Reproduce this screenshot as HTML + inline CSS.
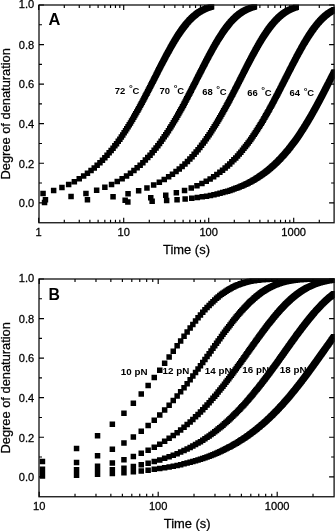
<!DOCTYPE html><html><head><meta charset="utf-8"><style>html,body{margin:0;padding:0;background:#fff;}svg{display:block;will-change:transform;}text{font-family:"Liberation Sans", sans-serif;fill:#000;}.r{stroke:#000;stroke-width:0.25px;}</style></head><body>
<svg width="335" height="531" viewBox="0 0 335 531">
<rect width="335" height="531" fill="#fff"/>
<clipPath id="c5"><rect x="38.30" y="4.30" width="296.50" height="219.15"/></clipPath><path clip-path="url(#c5)" d="M40.3 190.7h5.5v5.5h-5.5zM50.9 187.7h5.5v5.5h-5.5zM59.2 184.7h5.5v5.5h-5.5zM65.9 181.8h5.5v5.5h-5.5zM71.6 178.9h5.5v5.5h-5.5zM76.5 176.1h5.5v5.5h-5.5zM80.9 173.3h5.5v5.5h-5.5zM84.7 170.5h5.5v5.5h-5.5zM88.3 167.8h5.5v5.5h-5.5zM91.5 165.2h5.5v5.5h-5.5zM94.4 162.6h5.5v5.5h-5.5zM97.2 160.0h5.5v5.5h-5.5zM99.7 157.5h5.5v5.5h-5.5zM102.1 155.0h5.5v5.5h-5.5zM104.3 152.5h5.5v5.5h-5.5zM106.4 150.1h5.5v5.5h-5.5zM108.4 147.7h5.5v5.5h-5.5zM110.3 145.4h5.5v5.5h-5.5zM112.1 143.1h5.5v5.5h-5.5zM113.8 140.9h5.5v5.5h-5.5zM115.5 138.6h5.5v5.5h-5.5zM117.1 136.4h5.5v5.5h-5.5zM118.6 134.3h5.5v5.5h-5.5zM120.0 132.2h5.5v5.5h-5.5zM121.4 130.1h5.5v5.5h-5.5zM122.8 128.0h5.5v5.5h-5.5zM124.0 126.0h5.5v5.5h-5.5zM125.3 124.0h5.5v5.5h-5.5zM126.5 122.1h5.5v5.5h-5.5zM127.7 120.2h5.5v5.5h-5.5zM128.8 118.3h5.5v5.5h-5.5zM129.9 116.4h5.5v5.5h-5.5zM131.0 114.6h5.5v5.5h-5.5zM132.0 112.8h5.5v5.5h-5.5zM133.0 111.0h5.5v5.5h-5.5zM134.0 109.3h5.5v5.5h-5.5zM135.0 107.6h5.5v5.5h-5.5zM135.9 105.9h5.5v5.5h-5.5zM136.8 104.2h5.5v5.5h-5.5zM137.7 102.6h5.5v5.5h-5.5zM138.6 101.0h5.5v5.5h-5.5zM139.4 99.4h5.5v5.5h-5.5zM140.3 97.8h5.5v5.5h-5.5zM141.1 96.3h5.5v5.5h-5.5zM141.9 94.8h5.5v5.5h-5.5zM142.6 93.3h5.5v5.5h-5.5zM143.4 91.8h5.5v5.5h-5.5zM144.2 90.4h5.5v5.5h-5.5zM144.9 89.0h5.5v5.5h-5.5zM145.6 87.6h5.5v5.5h-5.5zM146.3 86.2h5.5v5.5h-5.5zM147.0 84.9h5.5v5.5h-5.5zM147.7 83.6h5.5v5.5h-5.5zM148.3 82.3h5.5v5.5h-5.5zM149.0 81.0h5.5v5.5h-5.5zM149.6 79.7h5.5v5.5h-5.5zM150.3 78.5h5.5v5.5h-5.5zM150.9 77.2h5.5v5.5h-5.5zM151.5 76.0h5.5v5.5h-5.5zM152.1 74.9h5.5v5.5h-5.5zM152.7 73.7h5.5v5.5h-5.5zM153.3 72.6h5.5v5.5h-5.5zM153.8 71.4h5.5v5.5h-5.5zM154.4 70.3h5.5v5.5h-5.5zM155.0 69.2h5.5v5.5h-5.5zM155.5 68.1h5.5v5.5h-5.5zM156.0 67.1h5.5v5.5h-5.5zM156.6 66.1h5.5v5.5h-5.5zM157.1 65.0h5.5v5.5h-5.5zM157.6 64.0h5.5v5.5h-5.5zM158.1 63.0h5.5v5.5h-5.5zM158.6 62.1h5.5v5.5h-5.5zM159.1 61.1h5.5v5.5h-5.5zM159.6 60.2h5.5v5.5h-5.5zM160.1 59.2h5.5v5.5h-5.5zM160.6 58.3h5.5v5.5h-5.5zM161.0 57.4h5.5v5.5h-5.5zM161.5 56.5h5.5v5.5h-5.5zM162.0 55.7h5.5v5.5h-5.5zM162.4 54.8h5.5v5.5h-5.5zM162.9 54.0h5.5v5.5h-5.5zM163.3 53.1h5.5v5.5h-5.5zM163.7 52.3h5.5v5.5h-5.5zM164.2 51.5h5.5v5.5h-5.5zM164.6 50.7h5.5v5.5h-5.5zM165.0 49.9h5.5v5.5h-5.5zM165.4 49.2h5.5v5.5h-5.5zM165.9 48.4h5.5v5.5h-5.5zM166.3 47.7h5.5v5.5h-5.5zM166.7 47.0h5.5v5.5h-5.5zM167.1 46.2h5.5v5.5h-5.5zM167.5 45.5h5.5v5.5h-5.5zM167.8 44.8h5.5v5.5h-5.5zM168.2 44.2h5.5v5.5h-5.5zM168.6 43.5h5.5v5.5h-5.5zM169.0 42.8h5.5v5.5h-5.5zM169.4 42.2h5.5v5.5h-5.5zM169.7 41.5h5.5v5.5h-5.5zM170.1 40.9h5.5v5.5h-5.5zM170.5 40.3h5.5v5.5h-5.5zM170.8 39.7h5.5v5.5h-5.5zM171.2 39.1h5.5v5.5h-5.5zM171.5 38.5h5.5v5.5h-5.5zM171.9 37.9h5.5v5.5h-5.5zM172.2 37.3h5.5v5.5h-5.5zM172.6 36.8h5.5v5.5h-5.5zM172.9 36.2h5.5v5.5h-5.5zM173.3 35.7h5.5v5.5h-5.5zM173.6 35.1h5.5v5.5h-5.5zM173.9 34.6h5.5v5.5h-5.5zM174.3 34.1h5.5v5.5h-5.5zM174.6 33.6h5.5v5.5h-5.5zM174.9 33.1h5.5v5.5h-5.5zM175.2 32.6h5.5v5.5h-5.5zM175.5 32.1h5.5v5.5h-5.5zM175.9 31.6h5.5v5.5h-5.5zM176.2 31.1h5.5v5.5h-5.5zM176.5 30.7h5.5v5.5h-5.5zM176.8 30.2h5.5v5.5h-5.5zM177.1 29.8h5.5v5.5h-5.5zM177.4 29.3h5.5v5.5h-5.5zM177.7 28.9h5.5v5.5h-5.5zM178.0 28.5h5.5v5.5h-5.5zM178.3 28.1h5.5v5.5h-5.5zM178.6 27.6h5.5v5.5h-5.5zM178.9 27.2h5.5v5.5h-5.5zM179.1 26.8h5.5v5.5h-5.5zM179.4 26.4h5.5v5.5h-5.5zM179.7 26.1h5.5v5.5h-5.5zM180.0 25.7h5.5v5.5h-5.5zM180.3 25.3h5.5v5.5h-5.5zM180.5 24.9h5.5v5.5h-5.5zM180.8 24.6h5.5v5.5h-5.5zM181.1 24.2h5.5v5.5h-5.5zM181.4 23.9h5.5v5.5h-5.5zM181.6 23.5h5.5v5.5h-5.5zM181.9 23.2h5.5v5.5h-5.5zM182.2 22.8h5.5v5.5h-5.5zM182.4 22.5h5.5v5.5h-5.5zM182.7 22.2h5.5v5.5h-5.5zM182.9 21.9h5.5v5.5h-5.5zM183.2 21.5h5.5v5.5h-5.5zM183.5 21.2h5.5v5.5h-5.5zM183.7 20.9h5.5v5.5h-5.5zM184.2 20.3h5.5v5.5h-5.5zM184.7 19.8h5.5v5.5h-5.5zM185.2 19.2h5.5v5.5h-5.5zM185.7 18.7h5.5v5.5h-5.5zM186.2 18.1h5.5v5.5h-5.5zM186.6 17.6h5.5v5.5h-5.5zM187.1 17.1h5.5v5.5h-5.5zM187.6 16.7h5.5v5.5h-5.5zM188.0 16.2h5.5v5.5h-5.5zM188.5 15.8h5.5v5.5h-5.5zM188.9 15.3h5.5v5.5h-5.5zM189.3 14.9h5.5v5.5h-5.5zM189.8 14.5h5.5v5.5h-5.5zM190.2 14.1h5.5v5.5h-5.5zM190.6 13.8h5.5v5.5h-5.5zM191.0 13.4h5.5v5.5h-5.5zM191.4 13.0h5.5v5.5h-5.5zM191.8 12.7h5.5v5.5h-5.5zM192.3 12.4h5.5v5.5h-5.5zM192.7 12.0h5.5v5.5h-5.5zM193.0 11.7h5.5v5.5h-5.5zM193.4 11.4h5.5v5.5h-5.5zM193.8 11.1h5.5v5.5h-5.5zM194.2 10.8h5.5v5.5h-5.5zM194.6 10.6h5.5v5.5h-5.5zM195.0 10.3h5.5v5.5h-5.5zM195.3 10.1h5.5v5.5h-5.5zM195.7 9.8h5.5v5.5h-5.5zM196.1 9.6h5.5v5.5h-5.5zM196.4 9.3h5.5v5.5h-5.5zM196.8 9.1h5.5v5.5h-5.5zM197.1 8.9h5.5v5.5h-5.5zM197.5 8.7h5.5v5.5h-5.5zM197.8 8.5h5.5v5.5h-5.5zM198.2 8.3h5.5v5.5h-5.5zM198.5 8.1h5.5v5.5h-5.5zM198.8 7.9h5.5v5.5h-5.5zM199.2 7.7h5.5v5.5h-5.5zM199.5 7.5h5.5v5.5h-5.5zM199.8 7.4h5.5v5.5h-5.5zM200.2 7.2h5.5v5.5h-5.5zM200.5 7.1h5.5v5.5h-5.5zM200.8 6.9h5.5v5.5h-5.5zM201.1 6.8h5.5v5.5h-5.5zM201.4 6.6h5.5v5.5h-5.5zM201.8 6.5h5.5v5.5h-5.5zM202.1 6.3h5.5v5.5h-5.5zM202.4 6.2h5.5v5.5h-5.5zM202.7 6.1h5.5v5.5h-5.5zM203.0 6.0h5.5v5.5h-5.5zM203.4 5.8h5.5v5.5h-5.5zM203.9 5.6h5.5v5.5h-5.5zM204.3 5.5h5.5v5.5h-5.5zM204.7 5.3h5.5v5.5h-5.5zM205.2 5.2h5.5v5.5h-5.5zM205.6 5.0h5.5v5.5h-5.5zM206.0 4.9h5.5v5.5h-5.5zM206.4 4.8h5.5v5.5h-5.5zM206.8 4.6h5.5v5.5h-5.5zM207.2 4.5h5.5v5.5h-5.5zM207.6 4.4h5.5v5.5h-5.5zM208.0 4.3h5.5v5.5h-5.5zM208.4 4.2h5.5v5.5h-5.5zM208.8 4.1h5.5v5.5h-5.5zM42.7 196.9h5.5v5.5h-5.5zM68.3 193.7h5.5v5.5h-5.5zM83.2 190.7h5.5v5.5h-5.5zM93.9 187.6h5.5v5.5h-5.5zM102.1 184.6h5.5v5.5h-5.5zM108.8 181.7h5.5v5.5h-5.5zM114.5 178.8h5.5v5.5h-5.5zM119.4 176.0h5.5v5.5h-5.5zM123.8 173.2h5.5v5.5h-5.5zM127.7 170.4h5.5v5.5h-5.5zM131.2 167.7h5.5v5.5h-5.5zM134.4 165.1h5.5v5.5h-5.5zM137.4 162.5h5.5v5.5h-5.5zM140.1 159.9h5.5v5.5h-5.5zM142.6 157.3h5.5v5.5h-5.5zM145.0 154.8h5.5v5.5h-5.5zM147.3 152.4h5.5v5.5h-5.5zM149.4 150.0h5.5v5.5h-5.5zM151.4 147.6h5.5v5.5h-5.5zM153.3 145.3h5.5v5.5h-5.5zM155.1 143.0h5.5v5.5h-5.5zM156.8 140.7h5.5v5.5h-5.5zM158.4 138.5h5.5v5.5h-5.5zM160.0 136.3h5.5v5.5h-5.5zM161.5 134.1h5.5v5.5h-5.5zM163.0 132.0h5.5v5.5h-5.5zM164.3 129.9h5.5v5.5h-5.5zM165.7 127.9h5.5v5.5h-5.5zM167.0 125.8h5.5v5.5h-5.5zM168.2 123.9h5.5v5.5h-5.5zM169.4 121.9h5.5v5.5h-5.5zM170.6 120.0h5.5v5.5h-5.5zM171.8 118.1h5.5v5.5h-5.5zM172.9 116.2h5.5v5.5h-5.5zM173.9 114.4h5.5v5.5h-5.5zM175.0 112.6h5.5v5.5h-5.5zM176.0 110.8h5.5v5.5h-5.5zM177.0 109.1h5.5v5.5h-5.5zM177.9 107.3h5.5v5.5h-5.5zM178.9 105.7h5.5v5.5h-5.5zM179.8 104.0h5.5v5.5h-5.5zM180.7 102.4h5.5v5.5h-5.5zM181.5 100.7h5.5v5.5h-5.5zM182.4 99.2h5.5v5.5h-5.5zM183.2 97.6h5.5v5.5h-5.5zM184.0 96.1h5.5v5.5h-5.5zM184.8 94.6h5.5v5.5h-5.5zM185.6 93.1h5.5v5.5h-5.5zM186.3 91.6h5.5v5.5h-5.5zM187.1 90.2h5.5v5.5h-5.5zM187.8 88.8h5.5v5.5h-5.5zM188.5 87.4h5.5v5.5h-5.5zM189.2 86.0h5.5v5.5h-5.5zM189.9 84.6h5.5v5.5h-5.5zM190.6 83.3h5.5v5.5h-5.5zM191.3 82.0h5.5v5.5h-5.5zM191.9 80.7h5.5v5.5h-5.5zM192.6 79.5h5.5v5.5h-5.5zM193.2 78.2h5.5v5.5h-5.5zM193.8 77.0h5.5v5.5h-5.5zM194.4 75.8h5.5v5.5h-5.5zM195.0 74.6h5.5v5.5h-5.5zM195.6 73.5h5.5v5.5h-5.5zM196.2 72.3h5.5v5.5h-5.5zM196.8 71.2h5.5v5.5h-5.5zM197.3 70.1h5.5v5.5h-5.5zM197.9 69.0h5.5v5.5h-5.5zM198.4 67.9h5.5v5.5h-5.5zM199.0 66.9h5.5v5.5h-5.5zM199.5 65.8h5.5v5.5h-5.5zM200.0 64.8h5.5v5.5h-5.5zM200.6 63.8h5.5v5.5h-5.5zM201.1 62.8h5.5v5.5h-5.5zM201.6 61.8h5.5v5.5h-5.5zM202.1 60.9h5.5v5.5h-5.5zM202.5 59.9h5.5v5.5h-5.5zM203.0 59.0h5.5v5.5h-5.5zM203.5 58.1h5.5v5.5h-5.5zM204.0 57.2h5.5v5.5h-5.5zM204.4 56.3h5.5v5.5h-5.5zM204.9 55.4h5.5v5.5h-5.5zM205.4 54.6h5.5v5.5h-5.5zM205.8 53.7h5.5v5.5h-5.5zM206.2 52.9h5.5v5.5h-5.5zM206.7 52.1h5.5v5.5h-5.5zM207.1 51.3h5.5v5.5h-5.5zM207.5 50.5h5.5v5.5h-5.5zM208.0 49.7h5.5v5.5h-5.5zM208.4 49.0h5.5v5.5h-5.5zM208.8 48.2h5.5v5.5h-5.5zM209.2 47.5h5.5v5.5h-5.5zM209.6 46.7h5.5v5.5h-5.5zM210.0 46.0h5.5v5.5h-5.5zM210.4 45.3h5.5v5.5h-5.5zM210.8 44.6h5.5v5.5h-5.5zM211.2 43.9h5.5v5.5h-5.5zM211.6 43.3h5.5v5.5h-5.5zM211.9 42.6h5.5v5.5h-5.5zM212.3 42.0h5.5v5.5h-5.5zM212.7 41.3h5.5v5.5h-5.5zM213.0 40.7h5.5v5.5h-5.5zM213.4 40.1h5.5v5.5h-5.5zM213.8 39.5h5.5v5.5h-5.5zM214.1 38.9h5.5v5.5h-5.5zM214.5 38.3h5.5v5.5h-5.5zM214.8 37.7h5.5v5.5h-5.5zM215.2 37.1h5.5v5.5h-5.5zM215.5 36.6h5.5v5.5h-5.5zM215.9 36.0h5.5v5.5h-5.5zM216.2 35.5h5.5v5.5h-5.5zM216.5 34.9h5.5v5.5h-5.5zM216.9 34.4h5.5v5.5h-5.5zM217.2 33.9h5.5v5.5h-5.5zM217.5 33.4h5.5v5.5h-5.5zM217.8 32.9h5.5v5.5h-5.5zM218.2 32.4h5.5v5.5h-5.5zM218.5 31.9h5.5v5.5h-5.5zM218.8 31.4h5.5v5.5h-5.5zM219.1 31.0h5.5v5.5h-5.5zM219.4 30.5h5.5v5.5h-5.5zM219.7 30.1h5.5v5.5h-5.5zM220.0 29.6h5.5v5.5h-5.5zM220.3 29.2h5.5v5.5h-5.5zM220.6 28.7h5.5v5.5h-5.5zM220.9 28.3h5.5v5.5h-5.5zM221.2 27.9h5.5v5.5h-5.5zM221.5 27.5h5.5v5.5h-5.5zM221.8 27.1h5.5v5.5h-5.5zM222.1 26.7h5.5v5.5h-5.5zM222.4 26.3h5.5v5.5h-5.5zM222.6 25.9h5.5v5.5h-5.5zM222.9 25.5h5.5v5.5h-5.5zM223.2 25.1h5.5v5.5h-5.5zM223.5 24.8h5.5v5.5h-5.5zM223.8 24.4h5.5v5.5h-5.5zM224.0 24.0h5.5v5.5h-5.5zM224.3 23.7h5.5v5.5h-5.5zM224.6 23.4h5.5v5.5h-5.5zM224.8 23.0h5.5v5.5h-5.5zM225.1 22.7h5.5v5.5h-5.5zM225.4 22.4h5.5v5.5h-5.5zM225.6 22.0h5.5v5.5h-5.5zM225.9 21.7h5.5v5.5h-5.5zM226.1 21.4h5.5v5.5h-5.5zM226.4 21.1h5.5v5.5h-5.5zM226.7 20.8h5.5v5.5h-5.5zM227.2 20.2h5.5v5.5h-5.5zM227.6 19.6h5.5v5.5h-5.5zM228.1 19.1h5.5v5.5h-5.5zM228.6 18.5h5.5v5.5h-5.5zM229.1 18.0h5.5v5.5h-5.5zM229.6 17.5h5.5v5.5h-5.5zM230.0 17.0h5.5v5.5h-5.5zM230.5 16.5h5.5v5.5h-5.5zM230.9 16.1h5.5v5.5h-5.5zM231.4 15.7h5.5v5.5h-5.5zM231.8 15.2h5.5v5.5h-5.5zM232.3 14.8h5.5v5.5h-5.5zM232.7 14.4h5.5v5.5h-5.5zM233.1 14.0h5.5v5.5h-5.5zM233.5 13.6h5.5v5.5h-5.5zM234.0 13.3h5.5v5.5h-5.5zM234.4 12.9h5.5v5.5h-5.5zM234.8 12.6h5.5v5.5h-5.5zM235.2 12.3h5.5v5.5h-5.5zM235.6 11.9h5.5v5.5h-5.5zM236.0 11.6h5.5v5.5h-5.5zM236.4 11.3h5.5v5.5h-5.5zM236.8 11.0h5.5v5.5h-5.5zM237.1 10.8h5.5v5.5h-5.5zM237.5 10.5h5.5v5.5h-5.5zM237.9 10.2h5.5v5.5h-5.5zM238.3 10.0h5.5v5.5h-5.5zM238.6 9.7h5.5v5.5h-5.5zM239.0 9.5h5.5v5.5h-5.5zM239.4 9.3h5.5v5.5h-5.5zM239.7 9.0h5.5v5.5h-5.5zM240.1 8.8h5.5v5.5h-5.5zM240.4 8.6h5.5v5.5h-5.5zM240.8 8.4h5.5v5.5h-5.5zM241.1 8.2h5.5v5.5h-5.5zM241.4 8.0h5.5v5.5h-5.5zM241.8 7.8h5.5v5.5h-5.5zM242.1 7.7h5.5v5.5h-5.5zM242.5 7.5h5.5v5.5h-5.5zM242.8 7.3h5.5v5.5h-5.5zM243.1 7.2h5.5v5.5h-5.5zM243.4 7.0h5.5v5.5h-5.5zM243.7 6.8h5.5v5.5h-5.5zM244.1 6.7h5.5v5.5h-5.5zM244.4 6.6h5.5v5.5h-5.5zM244.7 6.4h5.5v5.5h-5.5zM245.0 6.3h5.5v5.5h-5.5zM245.3 6.2h5.5v5.5h-5.5zM245.6 6.0h5.5v5.5h-5.5zM245.9 5.9h5.5v5.5h-5.5zM246.4 5.7h5.5v5.5h-5.5zM246.8 5.6h5.5v5.5h-5.5zM247.2 5.4h5.5v5.5h-5.5zM247.7 5.3h5.5v5.5h-5.5zM248.1 5.1h5.5v5.5h-5.5zM248.5 5.0h5.5v5.5h-5.5zM248.9 4.9h5.5v5.5h-5.5zM249.3 4.7h5.5v5.5h-5.5zM249.8 4.6h5.5v5.5h-5.5zM250.2 4.5h5.5v5.5h-5.5zM250.6 4.4h5.5v5.5h-5.5zM251.0 4.3h5.5v5.5h-5.5zM251.3 4.2h5.5v5.5h-5.5zM251.7 4.1h5.5v5.5h-5.5zM84.7 197.0h5.5v5.5h-5.5zM110.3 194.0h5.5v5.5h-5.5zM125.3 191.0h5.5v5.5h-5.5zM135.9 188.1h5.5v5.5h-5.5zM144.2 185.2h5.5v5.5h-5.5zM150.9 182.3h5.5v5.5h-5.5zM156.6 179.6h5.5v5.5h-5.5zM161.5 176.8h5.5v5.5h-5.5zM165.9 174.1h5.5v5.5h-5.5zM169.7 171.4h5.5v5.5h-5.5zM173.3 168.8h5.5v5.5h-5.5zM176.5 166.2h5.5v5.5h-5.5zM179.4 163.7h5.5v5.5h-5.5zM182.2 161.2h5.5v5.5h-5.5zM184.7 158.7h5.5v5.5h-5.5zM187.1 156.3h5.5v5.5h-5.5zM189.3 153.9h5.5v5.5h-5.5zM191.4 151.6h5.5v5.5h-5.5zM193.4 149.2h5.5v5.5h-5.5zM195.3 147.0h5.5v5.5h-5.5zM197.1 144.7h5.5v5.5h-5.5zM198.8 142.5h5.5v5.5h-5.5zM200.5 140.3h5.5v5.5h-5.5zM202.1 138.2h5.5v5.5h-5.5zM203.6 136.1h5.5v5.5h-5.5zM205.0 134.0h5.5v5.5h-5.5zM206.4 132.0h5.5v5.5h-5.5zM207.8 130.0h5.5v5.5h-5.5zM209.0 128.0h5.5v5.5h-5.5zM210.3 126.0h5.5v5.5h-5.5zM211.5 124.1h5.5v5.5h-5.5zM212.7 122.2h5.5v5.5h-5.5zM213.8 120.4h5.5v5.5h-5.5zM214.9 118.5h5.5v5.5h-5.5zM216.0 116.7h5.5v5.5h-5.5zM217.0 115.0h5.5v5.5h-5.5zM218.0 113.2h5.5v5.5h-5.5zM219.0 111.5h5.5v5.5h-5.5zM220.0 109.8h5.5v5.5h-5.5zM220.9 108.1h5.5v5.5h-5.5zM221.8 106.5h5.5v5.5h-5.5zM222.7 104.9h5.5v5.5h-5.5zM223.6 103.3h5.5v5.5h-5.5zM224.4 101.7h5.5v5.5h-5.5zM225.3 100.2h5.5v5.5h-5.5zM226.1 98.7h5.5v5.5h-5.5zM226.9 97.2h5.5v5.5h-5.5zM227.6 95.7h5.5v5.5h-5.5zM228.4 94.2h5.5v5.5h-5.5zM229.2 92.8h5.5v5.5h-5.5zM229.9 91.4h5.5v5.5h-5.5zM230.6 90.0h5.5v5.5h-5.5zM231.3 88.7h5.5v5.5h-5.5zM232.0 87.3h5.5v5.5h-5.5zM232.7 86.0h5.5v5.5h-5.5zM233.3 84.7h5.5v5.5h-5.5zM234.0 83.4h5.5v5.5h-5.5zM234.6 82.2h5.5v5.5h-5.5zM235.3 80.9h5.5v5.5h-5.5zM235.9 79.7h5.5v5.5h-5.5zM236.5 78.5h5.5v5.5h-5.5zM237.1 77.3h5.5v5.5h-5.5zM237.7 76.2h5.5v5.5h-5.5zM238.3 75.0h5.5v5.5h-5.5zM238.8 73.9h5.5v5.5h-5.5zM239.4 72.8h5.5v5.5h-5.5zM240.0 71.7h5.5v5.5h-5.5zM240.5 70.6h5.5v5.5h-5.5zM241.0 69.5h5.5v5.5h-5.5zM241.6 68.5h5.5v5.5h-5.5zM242.1 67.5h5.5v5.5h-5.5zM242.6 66.5h5.5v5.5h-5.5zM243.1 65.5h5.5v5.5h-5.5zM243.6 64.5h5.5v5.5h-5.5zM244.1 63.5h5.5v5.5h-5.5zM244.6 62.6h5.5v5.5h-5.5zM245.1 61.6h5.5v5.5h-5.5zM245.6 60.7h5.5v5.5h-5.5zM246.0 59.8h5.5v5.5h-5.5zM246.5 58.9h5.5v5.5h-5.5zM247.0 58.0h5.5v5.5h-5.5zM247.4 57.2h5.5v5.5h-5.5zM247.9 56.3h5.5v5.5h-5.5zM248.3 55.5h5.5v5.5h-5.5zM248.7 54.7h5.5v5.5h-5.5zM249.2 53.8h5.5v5.5h-5.5zM249.6 53.0h5.5v5.5h-5.5zM250.0 52.3h5.5v5.5h-5.5zM250.4 51.5h5.5v5.5h-5.5zM250.9 50.7h5.5v5.5h-5.5zM251.3 50.0h5.5v5.5h-5.5zM251.7 49.2h5.5v5.5h-5.5zM252.1 48.5h5.5v5.5h-5.5zM252.5 47.8h5.5v5.5h-5.5zM252.8 47.1h5.5v5.5h-5.5zM253.2 46.4h5.5v5.5h-5.5zM253.6 45.7h5.5v5.5h-5.5zM254.0 45.0h5.5v5.5h-5.5zM254.4 44.4h5.5v5.5h-5.5zM254.7 43.7h5.5v5.5h-5.5zM255.1 43.1h5.5v5.5h-5.5zM255.5 42.4h5.5v5.5h-5.5zM255.8 41.8h5.5v5.5h-5.5zM256.2 41.2h5.5v5.5h-5.5zM256.5 40.6h5.5v5.5h-5.5zM256.9 40.0h5.5v5.5h-5.5zM257.2 39.4h5.5v5.5h-5.5zM257.6 38.8h5.5v5.5h-5.5zM257.9 38.3h5.5v5.5h-5.5zM258.3 37.7h5.5v5.5h-5.5zM258.6 37.2h5.5v5.5h-5.5zM258.9 36.6h5.5v5.5h-5.5zM259.3 36.1h5.5v5.5h-5.5zM259.6 35.6h5.5v5.5h-5.5zM259.9 35.0h5.5v5.5h-5.5zM260.2 34.5h5.5v5.5h-5.5zM260.5 34.0h5.5v5.5h-5.5zM260.9 33.5h5.5v5.5h-5.5zM261.2 33.1h5.5v5.5h-5.5zM261.5 32.6h5.5v5.5h-5.5zM261.8 32.1h5.5v5.5h-5.5zM262.1 31.7h5.5v5.5h-5.5zM262.4 31.2h5.5v5.5h-5.5zM262.7 30.7h5.5v5.5h-5.5zM263.0 30.3h5.5v5.5h-5.5zM263.3 29.9h5.5v5.5h-5.5zM263.6 29.4h5.5v5.5h-5.5zM263.9 29.0h5.5v5.5h-5.5zM264.1 28.6h5.5v5.5h-5.5zM264.4 28.2h5.5v5.5h-5.5zM264.7 27.8h5.5v5.5h-5.5zM265.0 27.4h5.5v5.5h-5.5zM265.3 27.0h5.5v5.5h-5.5zM265.5 26.6h5.5v5.5h-5.5zM265.8 26.2h5.5v5.5h-5.5zM266.1 25.9h5.5v5.5h-5.5zM266.4 25.5h5.5v5.5h-5.5zM266.6 25.1h5.5v5.5h-5.5zM266.9 24.8h5.5v5.5h-5.5zM267.2 24.4h5.5v5.5h-5.5zM267.4 24.1h5.5v5.5h-5.5zM267.7 23.8h5.5v5.5h-5.5zM267.9 23.4h5.5v5.5h-5.5zM268.2 23.1h5.5v5.5h-5.5zM268.5 22.8h5.5v5.5h-5.5zM268.7 22.5h5.5v5.5h-5.5zM269.0 22.1h5.5v5.5h-5.5zM269.2 21.8h5.5v5.5h-5.5zM269.5 21.5h5.5v5.5h-5.5zM270.0 20.9h5.5v5.5h-5.5zM270.4 20.4h5.5v5.5h-5.5zM270.9 19.8h5.5v5.5h-5.5zM271.4 19.3h5.5v5.5h-5.5zM271.9 18.7h5.5v5.5h-5.5zM272.3 18.2h5.5v5.5h-5.5zM272.8 17.7h5.5v5.5h-5.5zM273.2 17.3h5.5v5.5h-5.5zM273.7 16.8h5.5v5.5h-5.5zM274.1 16.4h5.5v5.5h-5.5zM274.5 15.9h5.5v5.5h-5.5zM275.0 15.5h5.5v5.5h-5.5zM275.4 15.1h5.5v5.5h-5.5zM275.8 14.7h5.5v5.5h-5.5zM276.2 14.3h5.5v5.5h-5.5zM276.6 13.9h5.5v5.5h-5.5zM277.1 13.6h5.5v5.5h-5.5zM277.5 13.2h5.5v5.5h-5.5zM277.8 12.9h5.5v5.5h-5.5zM278.2 12.6h5.5v5.5h-5.5zM278.6 12.3h5.5v5.5h-5.5zM279.0 11.9h5.5v5.5h-5.5zM279.4 11.6h5.5v5.5h-5.5zM279.8 11.4h5.5v5.5h-5.5zM280.1 11.1h5.5v5.5h-5.5zM280.5 10.8h5.5v5.5h-5.5zM280.9 10.5h5.5v5.5h-5.5zM281.2 10.3h5.5v5.5h-5.5zM281.6 10.0h5.5v5.5h-5.5zM282.0 9.8h5.5v5.5h-5.5zM282.3 9.6h5.5v5.5h-5.5zM282.7 9.3h5.5v5.5h-5.5zM283.0 9.1h5.5v5.5h-5.5zM283.3 8.9h5.5v5.5h-5.5zM283.7 8.7h5.5v5.5h-5.5zM284.0 8.5h5.5v5.5h-5.5zM284.3 8.3h5.5v5.5h-5.5zM284.7 8.1h5.5v5.5h-5.5zM285.0 7.9h5.5v5.5h-5.5zM285.3 7.8h5.5v5.5h-5.5zM285.6 7.6h5.5v5.5h-5.5zM286.0 7.4h5.5v5.5h-5.5zM286.3 7.3h5.5v5.5h-5.5zM286.6 7.1h5.5v5.5h-5.5zM286.9 7.0h5.5v5.5h-5.5zM287.2 6.8h5.5v5.5h-5.5zM287.5 6.7h5.5v5.5h-5.5zM287.8 6.6h5.5v5.5h-5.5zM288.1 6.4h5.5v5.5h-5.5zM288.6 6.2h5.5v5.5h-5.5zM289.0 6.0h5.5v5.5h-5.5zM289.4 5.9h5.5v5.5h-5.5zM289.9 5.7h5.5v5.5h-5.5zM290.3 5.5h5.5v5.5h-5.5zM290.7 5.4h5.5v5.5h-5.5zM291.1 5.3h5.5v5.5h-5.5zM291.5 5.1h5.5v5.5h-5.5zM292.0 5.0h5.5v5.5h-5.5zM292.4 4.9h5.5v5.5h-5.5zM292.8 4.7h5.5v5.5h-5.5zM293.1 4.6h5.5v5.5h-5.5zM293.5 4.5h5.5v5.5h-5.5zM122.4 197.5h5.5v5.5h-5.5zM148.0 195.0h5.5v5.5h-5.5zM163.0 192.6h5.5v5.5h-5.5zM173.6 190.1h5.5v5.5h-5.5zM181.8 187.7h5.5v5.5h-5.5zM188.5 185.3h5.5v5.5h-5.5zM194.2 183.0h5.5v5.5h-5.5zM199.2 180.7h5.5v5.5h-5.5zM203.5 178.4h5.5v5.5h-5.5zM207.4 176.2h5.5v5.5h-5.5zM210.9 173.9h5.5v5.5h-5.5zM214.1 171.7h5.5v5.5h-5.5zM217.1 169.6h5.5v5.5h-5.5zM219.8 167.4h5.5v5.5h-5.5zM222.4 165.3h5.5v5.5h-5.5zM224.7 163.2h5.5v5.5h-5.5zM227.0 161.2h5.5v5.5h-5.5zM229.1 159.1h5.5v5.5h-5.5zM231.1 157.1h5.5v5.5h-5.5zM233.0 155.2h5.5v5.5h-5.5zM234.8 153.2h5.5v5.5h-5.5zM236.5 151.3h5.5v5.5h-5.5zM238.1 149.4h5.5v5.5h-5.5zM239.7 147.5h5.5v5.5h-5.5zM241.2 145.6h5.5v5.5h-5.5zM242.7 143.8h5.5v5.5h-5.5zM244.1 142.0h5.5v5.5h-5.5zM245.4 140.2h5.5v5.5h-5.5zM246.7 138.4h5.5v5.5h-5.5zM248.0 136.7h5.5v5.5h-5.5zM249.2 135.0h5.5v5.5h-5.5zM250.3 133.3h5.5v5.5h-5.5zM251.5 131.6h5.5v5.5h-5.5zM252.6 129.9h5.5v5.5h-5.5zM253.6 128.3h5.5v5.5h-5.5zM254.7 126.7h5.5v5.5h-5.5zM255.7 125.1h5.5v5.5h-5.5zM256.7 123.5h5.5v5.5h-5.5zM257.6 122.0h5.5v5.5h-5.5zM258.6 120.5h5.5v5.5h-5.5zM259.5 118.9h5.5v5.5h-5.5zM260.4 117.4h5.5v5.5h-5.5zM261.2 116.0h5.5v5.5h-5.5zM262.1 114.5h5.5v5.5h-5.5zM262.9 113.1h5.5v5.5h-5.5zM263.7 111.7h5.5v5.5h-5.5zM264.5 110.3h5.5v5.5h-5.5zM265.3 108.9h5.5v5.5h-5.5zM266.1 107.5h5.5v5.5h-5.5zM266.8 106.2h5.5v5.5h-5.5zM267.5 104.8h5.5v5.5h-5.5zM268.3 103.5h5.5v5.5h-5.5zM269.0 102.2h5.5v5.5h-5.5zM269.7 101.0h5.5v5.5h-5.5zM270.3 99.7h5.5v5.5h-5.5zM271.0 98.5h5.5v5.5h-5.5zM271.6 97.2h5.5v5.5h-5.5zM272.3 96.0h5.5v5.5h-5.5zM272.9 94.8h5.5v5.5h-5.5zM273.5 93.6h5.5v5.5h-5.5zM274.2 92.5h5.5v5.5h-5.5zM274.8 91.3h5.5v5.5h-5.5zM275.3 90.2h5.5v5.5h-5.5zM275.9 89.0h5.5v5.5h-5.5zM276.5 87.9h5.5v5.5h-5.5zM277.1 86.8h5.5v5.5h-5.5zM277.6 85.8h5.5v5.5h-5.5zM278.2 84.7h5.5v5.5h-5.5zM278.7 83.6h5.5v5.5h-5.5zM279.2 82.6h5.5v5.5h-5.5zM279.8 81.6h5.5v5.5h-5.5zM280.3 80.5h5.5v5.5h-5.5zM280.8 79.5h5.5v5.5h-5.5zM281.3 78.6h5.5v5.5h-5.5zM281.8 77.6h5.5v5.5h-5.5zM282.3 76.6h5.5v5.5h-5.5zM282.7 75.7h5.5v5.5h-5.5zM283.2 74.7h5.5v5.5h-5.5zM283.7 73.8h5.5v5.5h-5.5zM284.2 72.9h5.5v5.5h-5.5zM284.6 72.0h5.5v5.5h-5.5zM285.1 71.1h5.5v5.5h-5.5zM285.5 70.2h5.5v5.5h-5.5zM286.0 69.3h5.5v5.5h-5.5zM286.4 68.5h5.5v5.5h-5.5zM286.8 67.6h5.5v5.5h-5.5zM287.3 66.8h5.5v5.5h-5.5zM287.7 66.0h5.5v5.5h-5.5zM288.1 65.2h5.5v5.5h-5.5zM288.5 64.4h5.5v5.5h-5.5zM288.9 63.6h5.5v5.5h-5.5zM289.3 62.8h5.5v5.5h-5.5zM289.7 62.0h5.5v5.5h-5.5zM290.1 61.2h5.5v5.5h-5.5zM290.5 60.5h5.5v5.5h-5.5zM290.9 59.7h5.5v5.5h-5.5zM291.3 59.0h5.5v5.5h-5.5zM291.7 58.3h5.5v5.5h-5.5zM292.0 57.6h5.5v5.5h-5.5zM292.4 56.9h5.5v5.5h-5.5zM292.8 56.2h5.5v5.5h-5.5zM293.1 55.5h5.5v5.5h-5.5zM293.5 54.8h5.5v5.5h-5.5zM293.8 54.1h5.5v5.5h-5.5zM294.2 53.5h5.5v5.5h-5.5zM294.5 52.8h5.5v5.5h-5.5zM294.9 52.2h5.5v5.5h-5.5zM295.2 51.5h5.5v5.5h-5.5zM295.6 50.9h5.5v5.5h-5.5zM295.9 50.3h5.5v5.5h-5.5zM296.3 49.6h5.5v5.5h-5.5zM296.6 49.0h5.5v5.5h-5.5zM296.9 48.4h5.5v5.5h-5.5zM297.2 47.9h5.5v5.5h-5.5zM297.6 47.3h5.5v5.5h-5.5zM297.9 46.7h5.5v5.5h-5.5zM298.2 46.1h5.5v5.5h-5.5zM298.5 45.6h5.5v5.5h-5.5zM298.8 45.0h5.5v5.5h-5.5zM299.1 44.5h5.5v5.5h-5.5zM299.4 43.9h5.5v5.5h-5.5zM299.7 43.4h5.5v5.5h-5.5zM300.0 42.9h5.5v5.5h-5.5zM300.3 42.3h5.5v5.5h-5.5zM300.6 41.8h5.5v5.5h-5.5zM300.9 41.3h5.5v5.5h-5.5zM301.2 40.8h5.5v5.5h-5.5zM301.5 40.3h5.5v5.5h-5.5zM301.8 39.8h5.5v5.5h-5.5zM302.1 39.4h5.5v5.5h-5.5zM302.4 38.9h5.5v5.5h-5.5zM302.6 38.4h5.5v5.5h-5.5zM302.9 38.0h5.5v5.5h-5.5zM303.2 37.5h5.5v5.5h-5.5zM303.5 37.1h5.5v5.5h-5.5zM303.7 36.6h5.5v5.5h-5.5zM304.0 36.2h5.5v5.5h-5.5zM304.3 35.7h5.5v5.5h-5.5zM304.6 35.3h5.5v5.5h-5.5zM304.8 34.9h5.5v5.5h-5.5zM305.1 34.5h5.5v5.5h-5.5zM305.3 34.1h5.5v5.5h-5.5zM305.6 33.6h5.5v5.5h-5.5zM305.9 33.2h5.5v5.5h-5.5zM306.1 32.8h5.5v5.5h-5.5zM306.4 32.5h5.5v5.5h-5.5zM306.6 32.1h5.5v5.5h-5.5zM306.9 31.7h5.5v5.5h-5.5zM307.1 31.3h5.5v5.5h-5.5zM307.4 30.9h5.5v5.5h-5.5zM307.6 30.6h5.5v5.5h-5.5zM307.9 30.2h5.5v5.5h-5.5zM308.1 29.9h5.5v5.5h-5.5zM308.3 29.5h5.5v5.5h-5.5zM308.6 29.2h5.5v5.5h-5.5zM308.8 28.8h5.5v5.5h-5.5zM309.0 28.5h5.5v5.5h-5.5zM309.3 28.1h5.5v5.5h-5.5zM309.5 27.8h5.5v5.5h-5.5zM309.7 27.5h5.5v5.5h-5.5zM310.0 27.2h5.5v5.5h-5.5zM310.2 26.8h5.5v5.5h-5.5zM310.4 26.5h5.5v5.5h-5.5zM310.7 26.2h5.5v5.5h-5.5zM310.9 25.9h5.5v5.5h-5.5zM311.1 25.6h5.5v5.5h-5.5zM311.5 25.0h5.5v5.5h-5.5zM312.0 24.4h5.5v5.5h-5.5zM312.4 23.9h5.5v5.5h-5.5zM312.8 23.3h5.5v5.5h-5.5zM313.3 22.8h5.5v5.5h-5.5zM313.7 22.3h5.5v5.5h-5.5zM314.1 21.8h5.5v5.5h-5.5zM314.5 21.3h5.5v5.5h-5.5zM314.9 20.8h5.5v5.5h-5.5zM315.3 20.3h5.5v5.5h-5.5zM315.7 19.8h5.5v5.5h-5.5zM316.1 19.4h5.5v5.5h-5.5zM316.5 19.0h5.5v5.5h-5.5zM316.9 18.5h5.5v5.5h-5.5zM317.2 18.1h5.5v5.5h-5.5zM317.6 17.7h5.5v5.5h-5.5zM318.0 17.3h5.5v5.5h-5.5zM318.4 16.9h5.5v5.5h-5.5zM318.7 16.6h5.5v5.5h-5.5zM319.1 16.2h5.5v5.5h-5.5zM319.4 15.8h5.5v5.5h-5.5zM319.8 15.5h5.5v5.5h-5.5zM320.1 15.2h5.5v5.5h-5.5zM320.5 14.8h5.5v5.5h-5.5zM320.8 14.5h5.5v5.5h-5.5zM321.2 14.2h5.5v5.5h-5.5zM321.5 13.9h5.5v5.5h-5.5zM321.8 13.6h5.5v5.5h-5.5zM322.2 13.3h5.5v5.5h-5.5zM322.5 13.0h5.5v5.5h-5.5zM322.8 12.8h5.5v5.5h-5.5zM323.1 12.5h5.5v5.5h-5.5zM323.5 12.2h5.5v5.5h-5.5zM323.8 12.0h5.5v5.5h-5.5zM324.1 11.7h5.5v5.5h-5.5zM324.4 11.5h5.5v5.5h-5.5zM324.7 11.3h5.5v5.5h-5.5zM325.0 11.0h5.5v5.5h-5.5zM325.3 10.8h5.5v5.5h-5.5zM325.6 10.6h5.5v5.5h-5.5zM326.1 10.3h5.5v5.5h-5.5zM326.5 10.0h5.5v5.5h-5.5zM327.0 9.7h5.5v5.5h-5.5zM327.4 9.4h5.5v5.5h-5.5zM327.8 9.1h5.5v5.5h-5.5zM328.2 8.9h5.5v5.5h-5.5zM328.7 8.6h5.5v5.5h-5.5zM329.1 8.4h5.5v5.5h-5.5zM329.5 8.1h5.5v5.5h-5.5zM329.9 7.9h5.5v5.5h-5.5zM330.3 7.7h5.5v5.5h-5.5zM330.7 7.5h5.5v5.5h-5.5zM331.1 7.3h5.5v5.5h-5.5zM331.4 7.1h5.5v5.5h-5.5zM125.1 199.2h5.5v5.5h-5.5zM149.4 198.5h5.5v5.5h-5.5zM163.9 197.8h5.5v5.5h-5.5zM174.3 197.0h5.5v5.5h-5.5zM182.4 196.3h5.5v5.5h-5.5zM189.0 195.6h5.5v5.5h-5.5zM194.6 194.8h5.5v5.5h-5.5zM199.5 194.1h5.5v5.5h-5.5zM203.8 193.4h5.5v5.5h-5.5zM207.7 192.7h5.5v5.5h-5.5zM211.2 192.0h5.5v5.5h-5.5zM214.4 191.3h5.5v5.5h-5.5zM217.3 190.5h5.5v5.5h-5.5zM220.0 189.8h5.5v5.5h-5.5zM222.6 189.1h5.5v5.5h-5.5zM224.9 188.4h5.5v5.5h-5.5zM227.2 187.7h5.5v5.5h-5.5zM229.3 187.0h5.5v5.5h-5.5zM231.2 186.3h5.5v5.5h-5.5zM233.1 185.6h5.5v5.5h-5.5zM234.9 184.9h5.5v5.5h-5.5zM236.6 184.3h5.5v5.5h-5.5zM238.3 183.6h5.5v5.5h-5.5zM239.8 182.9h5.5v5.5h-5.5zM241.3 182.2h5.5v5.5h-5.5zM242.8 181.5h5.5v5.5h-5.5zM244.2 180.9h5.5v5.5h-5.5zM245.5 180.2h5.5v5.5h-5.5zM246.8 179.5h5.5v5.5h-5.5zM248.0 178.9h5.5v5.5h-5.5zM249.3 178.2h5.5v5.5h-5.5zM250.4 177.5h5.5v5.5h-5.5zM251.6 176.9h5.5v5.5h-5.5zM252.7 176.2h5.5v5.5h-5.5zM253.7 175.6h5.5v5.5h-5.5zM254.8 174.9h5.5v5.5h-5.5zM255.8 174.3h5.5v5.5h-5.5zM256.8 173.6h5.5v5.5h-5.5zM257.7 173.0h5.5v5.5h-5.5zM258.6 172.3h5.5v5.5h-5.5zM259.6 171.7h5.5v5.5h-5.5zM260.4 171.0h5.5v5.5h-5.5zM261.3 170.4h5.5v5.5h-5.5zM262.2 169.8h5.5v5.5h-5.5zM263.0 169.2h5.5v5.5h-5.5zM263.8 168.5h5.5v5.5h-5.5zM264.6 167.9h5.5v5.5h-5.5zM265.4 167.3h5.5v5.5h-5.5zM266.1 166.7h5.5v5.5h-5.5zM266.9 166.0h5.5v5.5h-5.5zM267.6 165.4h5.5v5.5h-5.5zM268.3 164.8h5.5v5.5h-5.5zM269.0 164.2h5.5v5.5h-5.5zM269.7 163.6h5.5v5.5h-5.5zM270.4 163.0h5.5v5.5h-5.5zM271.0 162.4h5.5v5.5h-5.5zM271.7 161.8h5.5v5.5h-5.5zM272.3 161.2h5.5v5.5h-5.5zM273.0 160.6h5.5v5.5h-5.5zM273.6 160.0h5.5v5.5h-5.5zM274.2 159.4h5.5v5.5h-5.5zM274.8 158.8h5.5v5.5h-5.5zM275.4 158.2h5.5v5.5h-5.5zM276.0 157.6h5.5v5.5h-5.5zM276.5 157.0h5.5v5.5h-5.5zM277.1 156.5h5.5v5.5h-5.5zM277.7 155.9h5.5v5.5h-5.5zM278.2 155.3h5.5v5.5h-5.5zM278.7 154.7h5.5v5.5h-5.5zM279.3 154.1h5.5v5.5h-5.5zM279.8 153.6h5.5v5.5h-5.5zM280.3 153.0h5.5v5.5h-5.5zM280.8 152.4h5.5v5.5h-5.5zM281.3 151.9h5.5v5.5h-5.5zM281.8 151.3h5.5v5.5h-5.5zM282.3 150.8h5.5v5.5h-5.5zM282.8 150.2h5.5v5.5h-5.5zM283.3 149.6h5.5v5.5h-5.5zM283.7 149.1h5.5v5.5h-5.5zM284.2 148.5h5.5v5.5h-5.5zM284.7 148.0h5.5v5.5h-5.5zM285.1 147.4h5.5v5.5h-5.5zM285.6 146.9h5.5v5.5h-5.5zM286.0 146.3h5.5v5.5h-5.5zM286.4 145.8h5.5v5.5h-5.5zM286.9 145.3h5.5v5.5h-5.5zM287.3 144.7h5.5v5.5h-5.5zM287.7 144.2h5.5v5.5h-5.5zM288.1 143.7h5.5v5.5h-5.5zM288.5 143.1h5.5v5.5h-5.5zM288.9 142.6h5.5v5.5h-5.5zM289.4 142.1h5.5v5.5h-5.5zM289.7 141.5h5.5v5.5h-5.5zM290.1 141.0h5.5v5.5h-5.5zM290.5 140.5h5.5v5.5h-5.5zM290.9 140.0h5.5v5.5h-5.5zM291.3 139.5h5.5v5.5h-5.5zM291.7 138.9h5.5v5.5h-5.5zM292.1 138.4h5.5v5.5h-5.5zM292.4 137.9h5.5v5.5h-5.5zM292.8 137.4h5.5v5.5h-5.5zM293.2 136.9h5.5v5.5h-5.5zM293.5 136.4h5.5v5.5h-5.5zM293.9 135.9h5.5v5.5h-5.5zM294.2 135.4h5.5v5.5h-5.5zM294.6 134.9h5.5v5.5h-5.5zM294.9 134.4h5.5v5.5h-5.5zM295.3 133.9h5.5v5.5h-5.5zM295.6 133.4h5.5v5.5h-5.5zM295.9 132.9h5.5v5.5h-5.5zM296.3 132.4h5.5v5.5h-5.5zM296.6 131.9h5.5v5.5h-5.5zM296.9 131.4h5.5v5.5h-5.5zM297.3 130.9h5.5v5.5h-5.5zM297.6 130.5h5.5v5.5h-5.5zM297.9 130.0h5.5v5.5h-5.5zM298.2 129.5h5.5v5.5h-5.5zM298.5 129.0h5.5v5.5h-5.5zM298.8 128.5h5.5v5.5h-5.5zM299.2 128.1h5.5v5.5h-5.5zM299.5 127.6h5.5v5.5h-5.5zM299.8 127.1h5.5v5.5h-5.5zM300.1 126.6h5.5v5.5h-5.5zM300.4 126.2h5.5v5.5h-5.5zM300.7 125.7h5.5v5.5h-5.5zM301.0 125.2h5.5v5.5h-5.5zM301.2 124.8h5.5v5.5h-5.5zM301.5 124.3h5.5v5.5h-5.5zM301.8 123.9h5.5v5.5h-5.5zM302.1 123.4h5.5v5.5h-5.5zM302.4 123.0h5.5v5.5h-5.5zM302.7 122.5h5.5v5.5h-5.5zM302.9 122.0h5.5v5.5h-5.5zM303.2 121.6h5.5v5.5h-5.5zM303.5 121.1h5.5v5.5h-5.5zM303.8 120.7h5.5v5.5h-5.5zM304.0 120.3h5.5v5.5h-5.5zM304.3 119.8h5.5v5.5h-5.5zM304.6 119.4h5.5v5.5h-5.5zM304.8 118.9h5.5v5.5h-5.5zM305.1 118.5h5.5v5.5h-5.5zM305.4 118.1h5.5v5.5h-5.5zM305.6 117.6h5.5v5.5h-5.5zM305.9 117.2h5.5v5.5h-5.5zM306.1 116.8h5.5v5.5h-5.5zM306.4 116.3h5.5v5.5h-5.5zM306.6 115.9h5.5v5.5h-5.5zM306.9 115.5h5.5v5.5h-5.5zM307.1 115.0h5.5v5.5h-5.5zM307.4 114.6h5.5v5.5h-5.5zM307.6 114.2h5.5v5.5h-5.5zM307.9 113.8h5.5v5.5h-5.5zM308.1 113.4h5.5v5.5h-5.5zM308.4 112.9h5.5v5.5h-5.5zM308.6 112.5h5.5v5.5h-5.5zM308.8 112.1h5.5v5.5h-5.5zM309.1 111.7h5.5v5.5h-5.5zM309.3 111.3h5.5v5.5h-5.5zM309.5 110.9h5.5v5.5h-5.5zM309.8 110.5h5.5v5.5h-5.5zM310.0 110.1h5.5v5.5h-5.5zM310.2 109.6h5.5v5.5h-5.5zM310.5 109.2h5.5v5.5h-5.5zM310.7 108.8h5.5v5.5h-5.5zM310.9 108.4h5.5v5.5h-5.5zM311.1 108.0h5.5v5.5h-5.5zM311.3 107.6h5.5v5.5h-5.5zM311.6 107.2h5.5v5.5h-5.5zM311.8 106.9h5.5v5.5h-5.5zM312.0 106.5h5.5v5.5h-5.5zM312.2 106.1h5.5v5.5h-5.5zM312.4 105.7h5.5v5.5h-5.5zM312.6 105.3h5.5v5.5h-5.5zM312.9 104.9h5.5v5.5h-5.5zM313.1 104.5h5.5v5.5h-5.5zM313.3 104.1h5.5v5.5h-5.5zM313.5 103.7h5.5v5.5h-5.5zM313.7 103.4h5.5v5.5h-5.5zM313.9 103.0h5.5v5.5h-5.5zM314.1 102.6h5.5v5.5h-5.5zM314.3 102.2h5.5v5.5h-5.5zM314.5 101.9h5.5v5.5h-5.5zM314.7 101.5h5.5v5.5h-5.5zM314.9 101.1h5.5v5.5h-5.5zM315.1 100.7h5.5v5.5h-5.5zM315.3 100.4h5.5v5.5h-5.5zM315.5 100.0h5.5v5.5h-5.5zM315.7 99.6h5.5v5.5h-5.5zM315.9 99.3h5.5v5.5h-5.5zM316.1 98.9h5.5v5.5h-5.5zM316.3 98.5h5.5v5.5h-5.5zM316.5 98.2h5.5v5.5h-5.5zM316.7 97.8h5.5v5.5h-5.5zM316.9 97.4h5.5v5.5h-5.5zM317.1 97.1h5.5v5.5h-5.5zM317.3 96.7h5.5v5.5h-5.5zM317.4 96.4h5.5v5.5h-5.5zM317.6 96.0h5.5v5.5h-5.5zM317.8 95.7h5.5v5.5h-5.5zM318.0 95.3h5.5v5.5h-5.5zM318.2 95.0h5.5v5.5h-5.5zM318.4 94.6h5.5v5.5h-5.5zM318.5 94.3h5.5v5.5h-5.5zM318.7 93.9h5.5v5.5h-5.5zM318.9 93.6h5.5v5.5h-5.5zM319.1 93.2h5.5v5.5h-5.5zM319.3 92.9h5.5v5.5h-5.5zM319.4 92.6h5.5v5.5h-5.5zM319.6 92.2h5.5v5.5h-5.5zM319.8 91.9h5.5v5.5h-5.5zM320.0 91.5h5.5v5.5h-5.5zM320.1 91.2h5.5v5.5h-5.5zM320.3 90.9h5.5v5.5h-5.5zM320.5 90.5h5.5v5.5h-5.5zM320.7 90.2h5.5v5.5h-5.5zM320.8 89.9h5.5v5.5h-5.5zM321.0 89.5h5.5v5.5h-5.5zM321.2 89.2h5.5v5.5h-5.5zM321.3 88.9h5.5v5.5h-5.5zM321.5 88.6h5.5v5.5h-5.5zM321.7 88.2h5.5v5.5h-5.5zM321.9 87.9h5.5v5.5h-5.5zM322.0 87.6h5.5v5.5h-5.5zM322.2 87.3h5.5v5.5h-5.5zM322.3 87.0h5.5v5.5h-5.5zM322.5 86.6h5.5v5.5h-5.5zM322.7 86.3h5.5v5.5h-5.5zM322.8 86.0h5.5v5.5h-5.5zM323.0 85.7h5.5v5.5h-5.5zM323.2 85.4h5.5v5.5h-5.5zM323.3 85.1h5.5v5.5h-5.5zM323.5 84.7h5.5v5.5h-5.5zM323.6 84.4h5.5v5.5h-5.5zM323.8 84.1h5.5v5.5h-5.5zM324.0 83.8h5.5v5.5h-5.5zM324.1 83.5h5.5v5.5h-5.5zM324.3 83.2h5.5v5.5h-5.5zM324.4 82.9h5.5v5.5h-5.5zM324.6 82.6h5.5v5.5h-5.5zM324.7 82.3h5.5v5.5h-5.5zM324.9 82.0h5.5v5.5h-5.5zM325.2 81.4h5.5v5.5h-5.5zM325.5 80.8h5.5v5.5h-5.5zM325.8 80.2h5.5v5.5h-5.5zM326.1 79.6h5.5v5.5h-5.5zM326.4 79.0h5.5v5.5h-5.5zM326.7 78.5h5.5v5.5h-5.5zM327.0 77.9h5.5v5.5h-5.5zM327.3 77.3h5.5v5.5h-5.5zM327.5 76.8h5.5v5.5h-5.5zM327.8 76.2h5.5v5.5h-5.5zM328.1 75.7h5.5v5.5h-5.5zM328.4 75.1h5.5v5.5h-5.5zM328.7 74.6h5.5v5.5h-5.5zM328.9 74.0h5.5v5.5h-5.5zM329.2 73.5h5.5v5.5h-5.5zM329.5 72.9h5.5v5.5h-5.5zM329.8 72.4h5.5v5.5h-5.5zM330.0 71.9h5.5v5.5h-5.5zM330.3 71.4h5.5v5.5h-5.5zM330.5 70.8h5.5v5.5h-5.5zM330.8 70.3h5.5v5.5h-5.5zM331.1 69.8h5.5v5.5h-5.5zM331.3 69.3h5.5v5.5h-5.5zM41.8 199.8h5.5v5.5h-5.5z" fill="#000"/>
<rect x="39.00" y="5.00" width="295.10" height="217.75" fill="none" stroke="#111" stroke-width="1.30"/>
<path d="M38.70 222.75v-5M38.70 5.00v5M123.70 222.75v-5M123.70 5.00v5M208.70 222.75v-5M208.70 5.00v5M293.70 222.75v-5M293.70 5.00v5M64.29 222.75v-3M64.29 5.00v3M79.26 222.75v-3M79.26 5.00v3M89.88 222.75v-3M89.88 5.00v3M98.11 222.75v-3M98.11 5.00v3M104.84 222.75v-3M104.84 5.00v3M110.53 222.75v-3M110.53 5.00v3M115.46 222.75v-3M115.46 5.00v3M119.81 222.75v-3M119.81 5.00v3M149.29 222.75v-3M149.29 5.00v3M164.26 222.75v-3M164.26 5.00v3M174.88 222.75v-3M174.88 5.00v3M183.11 222.75v-3M183.11 5.00v3M189.84 222.75v-3M189.84 5.00v3M195.53 222.75v-3M195.53 5.00v3M200.46 222.75v-3M200.46 5.00v3M204.81 222.75v-3M204.81 5.00v3M234.29 222.75v-3M234.29 5.00v3M249.26 222.75v-3M249.26 5.00v3M259.88 222.75v-3M259.88 5.00v3M268.11 222.75v-3M268.11 5.00v3M274.84 222.75v-3M274.84 5.00v3M280.53 222.75v-3M280.53 5.00v3M285.46 222.75v-3M285.46 5.00v3M289.81 222.75v-3M289.81 5.00v3M319.29 222.75v-3M319.29 5.00v3M39.00 202.80h5M334.10 202.80h-5M39.00 183.02h3M334.10 183.02h-3M39.00 163.24h5M334.10 163.24h-5M39.00 143.46h3M334.10 143.46h-3M39.00 123.68h5M334.10 123.68h-5M39.00 103.90h3M334.10 103.90h-3M39.00 84.12h5M334.10 84.12h-5M39.00 64.34h3M334.10 64.34h-3M39.00 44.56h5M334.10 44.56h-5M39.00 24.78h3M334.10 24.78h-3M39.00 5.00h5M334.10 5.00h-5" stroke="#000" stroke-width="1.15" fill="none"/>
<text class="r" x="34.3" y="207.10" text-anchor="end" font-size="10.3" transform="translate(34.3 0) scale(1.08 1) translate(-34.3 0)">0.0</text>
<text class="r" x="34.3" y="167.54" text-anchor="end" font-size="10.3" transform="translate(34.3 0) scale(1.08 1) translate(-34.3 0)">0.2</text>
<text class="r" x="34.3" y="127.98" text-anchor="end" font-size="10.3" transform="translate(34.3 0) scale(1.08 1) translate(-34.3 0)">0.4</text>
<text class="r" x="34.3" y="88.42" text-anchor="end" font-size="10.3" transform="translate(34.3 0) scale(1.08 1) translate(-34.3 0)">0.6</text>
<text class="r" x="34.3" y="48.86" text-anchor="end" font-size="10.3" transform="translate(34.3 0) scale(1.08 1) translate(-34.3 0)">0.8</text>
<text class="r" x="34.3" y="8.00" text-anchor="end" font-size="10.3" transform="translate(34.3 0) scale(1.08 1) translate(-34.3 0)">1.0</text>
<text class="r" x="38.70" y="236.00" text-anchor="middle" font-size="10.3" transform="translate(38.70 0) scale(1.08 1) translate(-38.70 0)">1</text>
<text class="r" x="123.70" y="236.00" text-anchor="middle" font-size="10.3" transform="translate(123.70 0) scale(1.08 1) translate(-123.70 0)">10</text>
<text class="r" x="208.70" y="236.00" text-anchor="middle" font-size="10.3" transform="translate(208.70 0) scale(1.08 1) translate(-208.70 0)">100</text>
<text class="r" x="293.70" y="236.00" text-anchor="middle" font-size="10.3" transform="translate(293.70 0) scale(1.08 1) translate(-293.70 0)">1000</text>
<text class="r" x="186.5" y="253.6" text-anchor="middle" font-size="12.2" transform="translate(186.5 0) scale(1.06 1) translate(-186.5 0)">Time (s)</text>
<text class="r" transform="translate(10.0 113.8) rotate(-90) scale(1.02 1)" text-anchor="middle" font-size="12.6">Degree of denaturation</text>
<text x="48.6" y="24.9" font-size="15.8" font-weight="bold" transform="translate(48.6 0) scale(1.04 1) translate(-48.6 0)">A</text>
<text x="114.80" y="93.60" font-size="9" font-weight="bold" transform="translate(114.80 0) scale(1.05 1) translate(-114.80 0)">72 <tspan dx="1.0" dy="-2.4">°</tspan><tspan dx="-0.3" dy="2.4">C</tspan></text>
<text x="159.60" y="93.80" font-size="9" font-weight="bold" transform="translate(159.60 0) scale(1.05 1) translate(-159.60 0)">70 <tspan dx="1.0" dy="-2.4">°</tspan><tspan dx="-0.3" dy="2.4">C</tspan></text>
<text x="202.20" y="94.80" font-size="9" font-weight="bold" transform="translate(202.20 0) scale(1.05 1) translate(-202.20 0)">68 <tspan dx="1.0" dy="-2.4">°</tspan><tspan dx="-0.3" dy="2.4">C</tspan></text>
<text x="247.20" y="95.80" font-size="9" font-weight="bold" transform="translate(247.20 0) scale(1.05 1) translate(-247.20 0)">66 <tspan dx="1.0" dy="-2.4">°</tspan><tspan dx="-0.3" dy="2.4">C</tspan></text>
<text x="289.60" y="96.50" font-size="9" font-weight="bold" transform="translate(289.60 0) scale(1.05 1) translate(-289.60 0)">64 <tspan dx="1.0" dy="-2.4">°</tspan><tspan dx="-0.3" dy="2.4">C</tspan></text>
<clipPath id="c279"><rect x="38.30" y="278.30" width="296.50" height="219.15"/></clipPath><path clip-path="url(#c279)" d="M39.7 458.8h5.5v5.5h-5.5zM73.8 445.7h5.5v5.5h-5.5zM94.8 433.0h5.5v5.5h-5.5zM109.6 421.4h5.5v5.5h-5.5zM121.2 410.5h5.5v5.5h-5.5zM130.6 400.5h5.5v5.5h-5.5zM138.5 391.3h5.5v5.5h-5.5zM145.4 382.7h5.5v5.5h-5.5zM151.5 374.8h5.5v5.5h-5.5zM157.0 367.4h5.5v5.5h-5.5zM161.9 360.6h5.5v5.5h-5.5zM166.4 354.3h5.5v5.5h-5.5zM170.5 348.5h5.5v5.5h-5.5zM174.4 343.1h5.5v5.5h-5.5zM177.9 338.2h5.5v5.5h-5.5zM181.3 333.5h5.5v5.5h-5.5zM184.4 329.3h5.5v5.5h-5.5zM187.4 325.3h5.5v5.5h-5.5zM190.1 321.7h5.5v5.5h-5.5zM192.8 318.3h5.5v5.5h-5.5zM195.3 315.1h5.5v5.5h-5.5zM197.7 312.2h5.5v5.5h-5.5zM200.0 309.6h5.5v5.5h-5.5zM202.2 307.1h5.5v5.5h-5.5zM204.3 304.8h5.5v5.5h-5.5zM206.4 302.7h5.5v5.5h-5.5zM208.3 300.7h5.5v5.5h-5.5zM210.2 298.9h5.5v5.5h-5.5zM212.0 297.2h5.5v5.5h-5.5zM213.8 295.6h5.5v5.5h-5.5zM215.4 294.2h5.5v5.5h-5.5zM217.1 292.8h5.5v5.5h-5.5zM218.7 291.6h5.5v5.5h-5.5zM220.2 290.5h5.5v5.5h-5.5zM221.7 289.4h5.5v5.5h-5.5zM223.2 288.4h5.5v5.5h-5.5zM224.6 287.5h5.5v5.5h-5.5zM226.0 286.7h5.5v5.5h-5.5zM227.3 285.9h5.5v5.5h-5.5zM228.6 285.2h5.5v5.5h-5.5zM229.9 284.5h5.5v5.5h-5.5zM231.1 283.9h5.5v5.5h-5.5zM232.4 283.3h5.5v5.5h-5.5zM233.5 282.8h5.5v5.5h-5.5zM234.7 282.3h5.5v5.5h-5.5zM235.8 281.9h5.5v5.5h-5.5zM237.0 281.4h5.5v5.5h-5.5zM238.0 281.1h5.5v5.5h-5.5zM239.1 280.7h5.5v5.5h-5.5zM240.2 280.4h5.5v5.5h-5.5zM241.2 280.1h5.5v5.5h-5.5zM242.2 279.8h5.5v5.5h-5.5zM243.2 279.5h5.5v5.5h-5.5zM244.1 279.3h5.5v5.5h-5.5zM245.1 279.0h5.5v5.5h-5.5zM246.0 278.8h5.5v5.5h-5.5zM246.9 278.6h5.5v5.5h-5.5zM247.8 278.5h5.5v5.5h-5.5zM248.7 278.3h5.5v5.5h-5.5zM249.6 278.1h5.5v5.5h-5.5zM250.4 278.0h5.5v5.5h-5.5zM251.3 277.9h5.5v5.5h-5.5zM252.1 277.8h5.5v5.5h-5.5zM252.9 277.6h5.5v5.5h-5.5zM253.7 277.5h5.5v5.5h-5.5zM254.5 277.4h5.5v5.5h-5.5zM255.3 277.4h5.5v5.5h-5.5zM256.0 277.3h5.5v5.5h-5.5zM256.8 277.2h5.5v5.5h-5.5zM257.5 277.1h5.5v5.5h-5.5zM258.3 277.1h5.5v5.5h-5.5zM259.0 277.0h5.5v5.5h-5.5zM259.7 276.9h5.5v5.5h-5.5zM260.4 276.9h5.5v5.5h-5.5zM261.1 276.8h5.5v5.5h-5.5zM261.8 276.8h5.5v5.5h-5.5zM262.5 276.8h5.5v5.5h-5.5zM263.1 276.7h5.5v5.5h-5.5zM263.8 276.7h5.5v5.5h-5.5zM264.4 276.7h5.5v5.5h-5.5zM265.1 276.6h5.5v5.5h-5.5zM265.7 276.6h5.5v5.5h-5.5zM266.3 276.6h5.5v5.5h-5.5zM267.0 276.5h5.5v5.5h-5.5zM267.6 276.5h5.5v5.5h-5.5zM268.2 276.5h5.5v5.5h-5.5zM268.8 276.5h5.5v5.5h-5.5zM269.4 276.5h5.5v5.5h-5.5zM270.0 276.5h5.5v5.5h-5.5zM270.5 276.4h5.5v5.5h-5.5zM271.1 276.4h5.5v5.5h-5.5zM271.7 276.4h5.5v5.5h-5.5zM272.2 276.4h5.5v5.5h-5.5zM272.8 276.4h5.5v5.5h-5.5zM273.3 276.4h5.5v5.5h-5.5zM273.9 276.4h5.5v5.5h-5.5zM274.4 276.4h5.5v5.5h-5.5zM274.9 276.4h5.5v5.5h-5.5zM275.5 276.3h5.5v5.5h-5.5zM276.0 276.3h5.5v5.5h-5.5zM276.5 276.3h5.5v5.5h-5.5zM277.0 276.3h5.5v5.5h-5.5zM277.5 276.3h5.5v5.5h-5.5zM278.0 276.3h5.5v5.5h-5.5zM278.5 276.3h5.5v5.5h-5.5zM279.0 276.3h5.5v5.5h-5.5zM279.5 276.3h5.5v5.5h-5.5zM280.0 276.3h5.5v5.5h-5.5zM280.4 276.3h5.5v5.5h-5.5zM280.9 276.3h5.5v5.5h-5.5zM281.4 276.3h5.5v5.5h-5.5zM281.8 276.3h5.5v5.5h-5.5zM282.3 276.3h5.5v5.5h-5.5zM282.7 276.3h5.5v5.5h-5.5zM283.2 276.3h5.5v5.5h-5.5zM283.6 276.3h5.5v5.5h-5.5zM284.1 276.3h5.5v5.5h-5.5zM284.5 276.3h5.5v5.5h-5.5zM285.0 276.3h5.5v5.5h-5.5zM285.4 276.3h5.5v5.5h-5.5zM285.8 276.3h5.5v5.5h-5.5zM286.3 276.3h5.5v5.5h-5.5zM286.7 276.3h5.5v5.5h-5.5zM287.1 276.3h5.5v5.5h-5.5zM287.5 276.3h5.5v5.5h-5.5zM287.9 276.3h5.5v5.5h-5.5zM288.3 276.3h5.5v5.5h-5.5zM288.7 276.3h5.5v5.5h-5.5zM289.1 276.3h5.5v5.5h-5.5zM289.5 276.3h5.5v5.5h-5.5zM289.9 276.3h5.5v5.5h-5.5zM290.3 276.3h5.5v5.5h-5.5zM290.7 276.3h5.5v5.5h-5.5zM291.1 276.3h5.5v5.5h-5.5zM291.5 276.3h5.5v5.5h-5.5zM291.9 276.3h5.5v5.5h-5.5zM292.2 276.3h5.5v5.5h-5.5zM292.6 276.3h5.5v5.5h-5.5zM293.0 276.3h5.5v5.5h-5.5zM293.4 276.3h5.5v5.5h-5.5zM293.7 276.3h5.5v5.5h-5.5zM294.1 276.3h5.5v5.5h-5.5zM294.5 276.3h5.5v5.5h-5.5zM294.8 276.3h5.5v5.5h-5.5zM295.2 276.3h5.5v5.5h-5.5zM295.5 276.3h5.5v5.5h-5.5zM295.9 276.3h5.5v5.5h-5.5zM296.2 276.3h5.5v5.5h-5.5zM296.6 276.3h5.5v5.5h-5.5zM296.9 276.3h5.5v5.5h-5.5zM297.3 276.3h5.5v5.5h-5.5zM297.6 276.3h5.5v5.5h-5.5zM298.0 276.3h5.5v5.5h-5.5zM298.3 276.3h5.5v5.5h-5.5zM298.6 276.3h5.5v5.5h-5.5zM299.0 276.3h5.5v5.5h-5.5zM299.3 276.3h5.5v5.5h-5.5zM299.6 276.3h5.5v5.5h-5.5zM299.9 276.3h5.5v5.5h-5.5zM300.3 276.3h5.5v5.5h-5.5zM300.6 276.3h5.5v5.5h-5.5zM300.9 276.3h5.5v5.5h-5.5zM301.2 276.3h5.5v5.5h-5.5zM301.5 276.3h5.5v5.5h-5.5zM301.9 276.3h5.5v5.5h-5.5zM302.2 276.3h5.5v5.5h-5.5zM302.5 276.3h5.5v5.5h-5.5zM302.8 276.3h5.5v5.5h-5.5zM303.1 276.3h5.5v5.5h-5.5zM303.4 276.3h5.5v5.5h-5.5zM303.7 276.3h5.5v5.5h-5.5zM304.0 276.3h5.5v5.5h-5.5zM304.6 276.3h5.5v5.5h-5.5zM305.2 276.3h5.5v5.5h-5.5zM305.8 276.3h5.5v5.5h-5.5zM306.4 276.3h5.5v5.5h-5.5zM306.9 276.3h5.5v5.5h-5.5zM307.5 276.3h5.5v5.5h-5.5zM308.0 276.3h5.5v5.5h-5.5zM308.6 276.3h5.5v5.5h-5.5zM309.1 276.3h5.5v5.5h-5.5zM309.7 276.3h5.5v5.5h-5.5zM310.2 276.3h5.5v5.5h-5.5zM310.8 276.3h5.5v5.5h-5.5zM311.3 276.3h5.5v5.5h-5.5zM311.8 276.3h5.5v5.5h-5.5zM312.3 276.3h5.5v5.5h-5.5zM312.8 276.3h5.5v5.5h-5.5zM313.3 276.3h5.5v5.5h-5.5zM313.8 276.3h5.5v5.5h-5.5zM314.3 276.3h5.5v5.5h-5.5zM314.8 276.3h5.5v5.5h-5.5zM315.3 276.3h5.5v5.5h-5.5zM315.8 276.3h5.5v5.5h-5.5zM316.3 276.3h5.5v5.5h-5.5zM316.7 276.3h5.5v5.5h-5.5zM317.2 276.3h5.5v5.5h-5.5zM317.7 276.3h5.5v5.5h-5.5zM318.1 276.3h5.5v5.5h-5.5zM318.6 276.3h5.5v5.5h-5.5zM319.0 276.3h5.5v5.5h-5.5zM319.5 276.3h5.5v5.5h-5.5zM319.9 276.3h5.5v5.5h-5.5zM320.4 276.3h5.5v5.5h-5.5zM320.8 276.3h5.5v5.5h-5.5zM321.2 276.3h5.5v5.5h-5.5zM321.7 276.3h5.5v5.5h-5.5zM322.1 276.3h5.5v5.5h-5.5zM322.5 276.3h5.5v5.5h-5.5zM322.9 276.3h5.5v5.5h-5.5zM323.3 276.3h5.5v5.5h-5.5zM323.7 276.3h5.5v5.5h-5.5zM324.2 276.3h5.5v5.5h-5.5zM324.6 276.3h5.5v5.5h-5.5zM325.0 276.3h5.5v5.5h-5.5zM325.4 276.3h5.5v5.5h-5.5zM325.8 276.3h5.5v5.5h-5.5zM326.1 276.3h5.5v5.5h-5.5zM326.5 276.3h5.5v5.5h-5.5zM326.9 276.3h5.5v5.5h-5.5zM327.3 276.3h5.5v5.5h-5.5zM327.7 276.3h5.5v5.5h-5.5zM328.1 276.3h5.5v5.5h-5.5zM328.4 276.3h5.5v5.5h-5.5zM328.8 276.3h5.5v5.5h-5.5zM329.2 276.3h5.5v5.5h-5.5zM329.6 276.3h5.5v5.5h-5.5zM329.9 276.3h5.5v5.5h-5.5zM330.3 276.3h5.5v5.5h-5.5zM330.6 276.3h5.5v5.5h-5.5zM331.0 276.3h5.5v5.5h-5.5zM39.7 466.5h5.5v5.5h-5.5zM73.8 459.8h5.5v5.5h-5.5zM94.8 453.0h5.5v5.5h-5.5zM109.6 446.5h5.5v5.5h-5.5zM121.2 440.3h5.5v5.5h-5.5zM130.6 434.2h5.5v5.5h-5.5zM138.5 428.4h5.5v5.5h-5.5zM145.4 422.8h5.5v5.5h-5.5zM151.5 417.4h5.5v5.5h-5.5zM157.0 412.3h5.5v5.5h-5.5zM161.9 407.3h5.5v5.5h-5.5zM166.4 402.4h5.5v5.5h-5.5zM170.5 397.8h5.5v5.5h-5.5zM174.4 393.3h5.5v5.5h-5.5zM177.9 389.0h5.5v5.5h-5.5zM181.3 384.9h5.5v5.5h-5.5zM184.4 380.9h5.5v5.5h-5.5zM187.4 377.0h5.5v5.5h-5.5zM190.1 373.3h5.5v5.5h-5.5zM192.8 369.8h5.5v5.5h-5.5zM195.3 366.3h5.5v5.5h-5.5zM197.7 363.0h5.5v5.5h-5.5zM200.0 359.8h5.5v5.5h-5.5zM202.2 356.8h5.5v5.5h-5.5zM204.3 353.8h5.5v5.5h-5.5zM206.4 350.9h5.5v5.5h-5.5zM208.3 348.2h5.5v5.5h-5.5zM210.2 345.6h5.5v5.5h-5.5zM212.0 343.0h5.5v5.5h-5.5zM213.8 340.6h5.5v5.5h-5.5zM215.4 338.2h5.5v5.5h-5.5zM217.1 335.9h5.5v5.5h-5.5zM218.7 333.7h5.5v5.5h-5.5zM220.2 331.6h5.5v5.5h-5.5zM221.7 329.6h5.5v5.5h-5.5zM223.2 327.6h5.5v5.5h-5.5zM224.6 325.7h5.5v5.5h-5.5zM226.0 323.9h5.5v5.5h-5.5zM227.3 322.2h5.5v5.5h-5.5zM228.6 320.5h5.5v5.5h-5.5zM229.9 318.8h5.5v5.5h-5.5zM231.1 317.3h5.5v5.5h-5.5zM232.4 315.8h5.5v5.5h-5.5zM233.5 314.3h5.5v5.5h-5.5zM234.7 312.9h5.5v5.5h-5.5zM235.8 311.6h5.5v5.5h-5.5zM237.0 310.3h5.5v5.5h-5.5zM238.0 309.0h5.5v5.5h-5.5zM239.1 307.8h5.5v5.5h-5.5zM240.2 306.7h5.5v5.5h-5.5zM241.2 305.5h5.5v5.5h-5.5zM242.2 304.5h5.5v5.5h-5.5zM243.2 303.4h5.5v5.5h-5.5zM244.1 302.4h5.5v5.5h-5.5zM245.1 301.5h5.5v5.5h-5.5zM246.0 300.5h5.5v5.5h-5.5zM246.9 299.6h5.5v5.5h-5.5zM247.8 298.8h5.5v5.5h-5.5zM248.7 298.0h5.5v5.5h-5.5zM249.6 297.2h5.5v5.5h-5.5zM250.4 296.4h5.5v5.5h-5.5zM251.3 295.6h5.5v5.5h-5.5zM252.1 294.9h5.5v5.5h-5.5zM252.9 294.2h5.5v5.5h-5.5zM253.7 293.6h5.5v5.5h-5.5zM254.5 292.9h5.5v5.5h-5.5zM255.3 292.3h5.5v5.5h-5.5zM256.0 291.7h5.5v5.5h-5.5zM256.8 291.2h5.5v5.5h-5.5zM257.5 290.6h5.5v5.5h-5.5zM258.3 290.1h5.5v5.5h-5.5zM259.0 289.6h5.5v5.5h-5.5zM259.7 289.1h5.5v5.5h-5.5zM260.4 288.6h5.5v5.5h-5.5zM261.1 288.2h5.5v5.5h-5.5zM261.8 287.7h5.5v5.5h-5.5zM262.5 287.3h5.5v5.5h-5.5zM263.1 286.9h5.5v5.5h-5.5zM263.8 286.5h5.5v5.5h-5.5zM264.4 286.1h5.5v5.5h-5.5zM265.1 285.8h5.5v5.5h-5.5zM265.7 285.4h5.5v5.5h-5.5zM266.3 285.1h5.5v5.5h-5.5zM267.0 284.8h5.5v5.5h-5.5zM267.6 284.4h5.5v5.5h-5.5zM268.2 284.1h5.5v5.5h-5.5zM268.8 283.9h5.5v5.5h-5.5zM269.4 283.6h5.5v5.5h-5.5zM270.0 283.3h5.5v5.5h-5.5zM270.5 283.0h5.5v5.5h-5.5zM271.1 282.8h5.5v5.5h-5.5zM271.7 282.6h5.5v5.5h-5.5zM272.2 282.3h5.5v5.5h-5.5zM272.8 282.1h5.5v5.5h-5.5zM273.3 281.9h5.5v5.5h-5.5zM273.9 281.7h5.5v5.5h-5.5zM274.4 281.5h5.5v5.5h-5.5zM274.9 281.3h5.5v5.5h-5.5zM275.5 281.1h5.5v5.5h-5.5zM276.0 280.9h5.5v5.5h-5.5zM276.5 280.8h5.5v5.5h-5.5zM277.0 280.6h5.5v5.5h-5.5zM277.5 280.4h5.5v5.5h-5.5zM278.0 280.3h5.5v5.5h-5.5zM278.5 280.1h5.5v5.5h-5.5zM279.0 280.0h5.5v5.5h-5.5zM279.5 279.8h5.5v5.5h-5.5zM280.0 279.7h5.5v5.5h-5.5zM280.4 279.6h5.5v5.5h-5.5zM280.9 279.5h5.5v5.5h-5.5zM281.4 279.3h5.5v5.5h-5.5zM281.8 279.2h5.5v5.5h-5.5zM282.3 279.1h5.5v5.5h-5.5zM282.7 279.0h5.5v5.5h-5.5zM283.2 278.9h5.5v5.5h-5.5zM283.6 278.8h5.5v5.5h-5.5zM284.1 278.7h5.5v5.5h-5.5zM284.5 278.6h5.5v5.5h-5.5zM285.0 278.5h5.5v5.5h-5.5zM285.4 278.5h5.5v5.5h-5.5zM285.8 278.4h5.5v5.5h-5.5zM286.3 278.3h5.5v5.5h-5.5zM286.7 278.2h5.5v5.5h-5.5zM287.1 278.2h5.5v5.5h-5.5zM287.5 278.1h5.5v5.5h-5.5zM287.9 278.0h5.5v5.5h-5.5zM288.3 277.9h5.5v5.5h-5.5zM288.7 277.9h5.5v5.5h-5.5zM289.1 277.8h5.5v5.5h-5.5zM289.5 277.8h5.5v5.5h-5.5zM289.9 277.7h5.5v5.5h-5.5zM290.3 277.7h5.5v5.5h-5.5zM290.7 277.6h5.5v5.5h-5.5zM291.1 277.6h5.5v5.5h-5.5zM291.5 277.5h5.5v5.5h-5.5zM291.9 277.5h5.5v5.5h-5.5zM292.2 277.4h5.5v5.5h-5.5zM292.6 277.4h5.5v5.5h-5.5zM293.0 277.3h5.5v5.5h-5.5zM293.4 277.3h5.5v5.5h-5.5zM293.7 277.3h5.5v5.5h-5.5zM294.1 277.2h5.5v5.5h-5.5zM294.5 277.2h5.5v5.5h-5.5zM294.8 277.1h5.5v5.5h-5.5zM295.2 277.1h5.5v5.5h-5.5zM295.5 277.1h5.5v5.5h-5.5zM295.9 277.1h5.5v5.5h-5.5zM296.2 277.0h5.5v5.5h-5.5zM296.6 277.0h5.5v5.5h-5.5zM296.9 277.0h5.5v5.5h-5.5zM297.3 276.9h5.5v5.5h-5.5zM297.6 276.9h5.5v5.5h-5.5zM298.0 276.9h5.5v5.5h-5.5zM298.3 276.9h5.5v5.5h-5.5zM298.6 276.8h5.5v5.5h-5.5zM299.0 276.8h5.5v5.5h-5.5zM299.3 276.8h5.5v5.5h-5.5zM299.6 276.8h5.5v5.5h-5.5zM299.9 276.8h5.5v5.5h-5.5zM300.3 276.7h5.5v5.5h-5.5zM300.6 276.7h5.5v5.5h-5.5zM300.9 276.7h5.5v5.5h-5.5zM301.2 276.7h5.5v5.5h-5.5zM301.5 276.7h5.5v5.5h-5.5zM301.9 276.7h5.5v5.5h-5.5zM302.2 276.6h5.5v5.5h-5.5zM302.5 276.6h5.5v5.5h-5.5zM302.8 276.6h5.5v5.5h-5.5zM303.1 276.6h5.5v5.5h-5.5zM303.4 276.6h5.5v5.5h-5.5zM303.7 276.6h5.5v5.5h-5.5zM304.0 276.6h5.5v5.5h-5.5zM304.6 276.5h5.5v5.5h-5.5zM305.2 276.5h5.5v5.5h-5.5zM305.8 276.5h5.5v5.5h-5.5zM306.4 276.5h5.5v5.5h-5.5zM306.9 276.5h5.5v5.5h-5.5zM307.5 276.5h5.5v5.5h-5.5zM308.0 276.4h5.5v5.5h-5.5zM308.6 276.4h5.5v5.5h-5.5zM309.1 276.4h5.5v5.5h-5.5zM309.7 276.4h5.5v5.5h-5.5zM310.2 276.4h5.5v5.5h-5.5zM310.8 276.4h5.5v5.5h-5.5zM311.3 276.4h5.5v5.5h-5.5zM311.8 276.4h5.5v5.5h-5.5zM312.3 276.4h5.5v5.5h-5.5zM312.8 276.3h5.5v5.5h-5.5zM313.3 276.3h5.5v5.5h-5.5zM313.8 276.3h5.5v5.5h-5.5zM314.3 276.3h5.5v5.5h-5.5zM314.8 276.3h5.5v5.5h-5.5zM315.3 276.3h5.5v5.5h-5.5zM315.8 276.3h5.5v5.5h-5.5zM316.3 276.3h5.5v5.5h-5.5zM316.7 276.3h5.5v5.5h-5.5zM317.2 276.3h5.5v5.5h-5.5zM317.7 276.3h5.5v5.5h-5.5zM318.1 276.3h5.5v5.5h-5.5zM318.6 276.3h5.5v5.5h-5.5zM319.0 276.3h5.5v5.5h-5.5zM319.5 276.3h5.5v5.5h-5.5zM319.9 276.3h5.5v5.5h-5.5zM320.4 276.3h5.5v5.5h-5.5zM320.8 276.3h5.5v5.5h-5.5zM321.2 276.3h5.5v5.5h-5.5zM321.7 276.3h5.5v5.5h-5.5zM322.1 276.3h5.5v5.5h-5.5zM322.5 276.3h5.5v5.5h-5.5zM322.9 276.3h5.5v5.5h-5.5zM323.3 276.3h5.5v5.5h-5.5zM323.7 276.3h5.5v5.5h-5.5zM324.2 276.3h5.5v5.5h-5.5zM324.6 276.3h5.5v5.5h-5.5zM325.0 276.3h5.5v5.5h-5.5zM325.4 276.3h5.5v5.5h-5.5zM325.8 276.3h5.5v5.5h-5.5zM326.1 276.3h5.5v5.5h-5.5zM326.5 276.3h5.5v5.5h-5.5zM326.9 276.3h5.5v5.5h-5.5zM327.3 276.3h5.5v5.5h-5.5zM327.7 276.3h5.5v5.5h-5.5zM328.1 276.3h5.5v5.5h-5.5zM328.4 276.3h5.5v5.5h-5.5zM328.8 276.3h5.5v5.5h-5.5zM329.2 276.3h5.5v5.5h-5.5zM329.6 276.3h5.5v5.5h-5.5zM329.9 276.3h5.5v5.5h-5.5zM330.3 276.3h5.5v5.5h-5.5zM330.6 276.3h5.5v5.5h-5.5zM331.0 276.3h5.5v5.5h-5.5zM39.7 470.4h5.5v5.5h-5.5zM73.8 467.0h5.5v5.5h-5.5zM94.8 463.6h5.5v5.5h-5.5zM109.6 460.3h5.5v5.5h-5.5zM121.2 457.0h5.5v5.5h-5.5zM130.6 453.8h5.5v5.5h-5.5zM138.5 450.6h5.5v5.5h-5.5zM145.4 447.5h5.5v5.5h-5.5zM151.5 444.4h5.5v5.5h-5.5zM157.0 441.4h5.5v5.5h-5.5zM161.9 438.5h5.5v5.5h-5.5zM166.4 435.6h5.5v5.5h-5.5zM170.5 432.7h5.5v5.5h-5.5zM174.4 429.9h5.5v5.5h-5.5zM177.9 427.2h5.5v5.5h-5.5zM181.3 424.5h5.5v5.5h-5.5zM184.4 421.8h5.5v5.5h-5.5zM187.4 419.2h5.5v5.5h-5.5zM190.1 416.7h5.5v5.5h-5.5zM192.8 414.1h5.5v5.5h-5.5zM195.3 411.7h5.5v5.5h-5.5zM197.7 409.3h5.5v5.5h-5.5zM200.0 406.9h5.5v5.5h-5.5zM202.2 404.5h5.5v5.5h-5.5zM204.3 402.3h5.5v5.5h-5.5zM206.4 400.0h5.5v5.5h-5.5zM208.3 397.8h5.5v5.5h-5.5zM210.2 395.6h5.5v5.5h-5.5zM212.0 393.5h5.5v5.5h-5.5zM213.8 391.4h5.5v5.5h-5.5zM215.4 389.3h5.5v5.5h-5.5zM217.1 387.3h5.5v5.5h-5.5zM218.7 385.3h5.5v5.5h-5.5zM220.2 383.4h5.5v5.5h-5.5zM221.7 381.5h5.5v5.5h-5.5zM223.2 379.6h5.5v5.5h-5.5zM224.6 377.7h5.5v5.5h-5.5zM226.0 375.9h5.5v5.5h-5.5zM227.3 374.1h5.5v5.5h-5.5zM228.6 372.4h5.5v5.5h-5.5zM229.9 370.7h5.5v5.5h-5.5zM231.1 369.0h5.5v5.5h-5.5zM232.4 367.3h5.5v5.5h-5.5zM233.5 365.7h5.5v5.5h-5.5zM234.7 364.1h5.5v5.5h-5.5zM235.8 362.5h5.5v5.5h-5.5zM237.0 361.0h5.5v5.5h-5.5zM238.0 359.5h5.5v5.5h-5.5zM239.1 358.0h5.5v5.5h-5.5zM240.2 356.5h5.5v5.5h-5.5zM241.2 355.1h5.5v5.5h-5.5zM242.2 353.7h5.5v5.5h-5.5zM243.2 352.3h5.5v5.5h-5.5zM244.1 350.9h5.5v5.5h-5.5zM245.1 349.6h5.5v5.5h-5.5zM246.0 348.3h5.5v5.5h-5.5zM246.9 347.0h5.5v5.5h-5.5zM247.8 345.7h5.5v5.5h-5.5zM248.7 344.5h5.5v5.5h-5.5zM249.6 343.3h5.5v5.5h-5.5zM250.4 342.1h5.5v5.5h-5.5zM251.3 340.9h5.5v5.5h-5.5zM252.1 339.7h5.5v5.5h-5.5zM252.9 338.6h5.5v5.5h-5.5zM253.7 337.5h5.5v5.5h-5.5zM254.5 336.4h5.5v5.5h-5.5zM255.3 335.3h5.5v5.5h-5.5zM256.0 334.3h5.5v5.5h-5.5zM256.8 333.2h5.5v5.5h-5.5zM257.5 332.2h5.5v5.5h-5.5zM258.3 331.2h5.5v5.5h-5.5zM259.0 330.2h5.5v5.5h-5.5zM259.7 329.3h5.5v5.5h-5.5zM260.4 328.3h5.5v5.5h-5.5zM261.1 327.4h5.5v5.5h-5.5zM261.8 326.5h5.5v5.5h-5.5zM262.5 325.6h5.5v5.5h-5.5zM263.1 324.7h5.5v5.5h-5.5zM263.8 323.8h5.5v5.5h-5.5zM264.4 323.0h5.5v5.5h-5.5zM265.1 322.1h5.5v5.5h-5.5zM265.7 321.3h5.5v5.5h-5.5zM266.3 320.5h5.5v5.5h-5.5zM267.0 319.7h5.5v5.5h-5.5zM267.6 318.9h5.5v5.5h-5.5zM268.2 318.2h5.5v5.5h-5.5zM268.8 317.4h5.5v5.5h-5.5zM269.4 316.7h5.5v5.5h-5.5zM270.0 316.0h5.5v5.5h-5.5zM270.5 315.3h5.5v5.5h-5.5zM271.1 314.6h5.5v5.5h-5.5zM271.7 313.9h5.5v5.5h-5.5zM272.2 313.2h5.5v5.5h-5.5zM272.8 312.5h5.5v5.5h-5.5zM273.3 311.9h5.5v5.5h-5.5zM273.9 311.3h5.5v5.5h-5.5zM274.4 310.6h5.5v5.5h-5.5zM274.9 310.0h5.5v5.5h-5.5zM275.5 309.4h5.5v5.5h-5.5zM276.0 308.8h5.5v5.5h-5.5zM276.5 308.2h5.5v5.5h-5.5zM277.0 307.7h5.5v5.5h-5.5zM277.5 307.1h5.5v5.5h-5.5zM278.0 306.6h5.5v5.5h-5.5zM278.5 306.0h5.5v5.5h-5.5zM279.0 305.5h5.5v5.5h-5.5zM279.5 305.0h5.5v5.5h-5.5zM280.0 304.4h5.5v5.5h-5.5zM280.4 303.9h5.5v5.5h-5.5zM280.9 303.4h5.5v5.5h-5.5zM281.4 303.0h5.5v5.5h-5.5zM281.8 302.5h5.5v5.5h-5.5zM282.3 302.0h5.5v5.5h-5.5zM282.7 301.6h5.5v5.5h-5.5zM283.2 301.1h5.5v5.5h-5.5zM283.6 300.7h5.5v5.5h-5.5zM284.1 300.2h5.5v5.5h-5.5zM284.5 299.8h5.5v5.5h-5.5zM285.0 299.4h5.5v5.5h-5.5zM285.4 299.0h5.5v5.5h-5.5zM285.8 298.6h5.5v5.5h-5.5zM286.3 298.2h5.5v5.5h-5.5zM286.7 297.8h5.5v5.5h-5.5zM287.1 297.4h5.5v5.5h-5.5zM287.5 297.0h5.5v5.5h-5.5zM287.9 296.6h5.5v5.5h-5.5zM288.3 296.3h5.5v5.5h-5.5zM288.7 295.9h5.5v5.5h-5.5zM289.1 295.6h5.5v5.5h-5.5zM289.5 295.2h5.5v5.5h-5.5zM289.9 294.9h5.5v5.5h-5.5zM290.3 294.5h5.5v5.5h-5.5zM290.7 294.2h5.5v5.5h-5.5zM291.1 293.9h5.5v5.5h-5.5zM291.5 293.6h5.5v5.5h-5.5zM291.9 293.3h5.5v5.5h-5.5zM292.2 293.0h5.5v5.5h-5.5zM292.6 292.7h5.5v5.5h-5.5zM293.0 292.4h5.5v5.5h-5.5zM293.4 292.1h5.5v5.5h-5.5zM293.7 291.8h5.5v5.5h-5.5zM294.1 291.5h5.5v5.5h-5.5zM294.5 291.2h5.5v5.5h-5.5zM294.8 291.0h5.5v5.5h-5.5zM295.2 290.7h5.5v5.5h-5.5zM295.5 290.5h5.5v5.5h-5.5zM295.9 290.2h5.5v5.5h-5.5zM296.2 290.0h5.5v5.5h-5.5zM296.6 289.7h5.5v5.5h-5.5zM296.9 289.5h5.5v5.5h-5.5zM297.3 289.2h5.5v5.5h-5.5zM297.6 289.0h5.5v5.5h-5.5zM298.0 288.8h5.5v5.5h-5.5zM298.3 288.5h5.5v5.5h-5.5zM298.6 288.3h5.5v5.5h-5.5zM299.0 288.1h5.5v5.5h-5.5zM299.3 287.9h5.5v5.5h-5.5zM299.6 287.7h5.5v5.5h-5.5zM299.9 287.5h5.5v5.5h-5.5zM300.3 287.3h5.5v5.5h-5.5zM300.6 287.1h5.5v5.5h-5.5zM300.9 286.9h5.5v5.5h-5.5zM301.2 286.7h5.5v5.5h-5.5zM301.5 286.5h5.5v5.5h-5.5zM301.9 286.3h5.5v5.5h-5.5zM302.2 286.2h5.5v5.5h-5.5zM302.5 286.0h5.5v5.5h-5.5zM302.8 285.8h5.5v5.5h-5.5zM303.1 285.6h5.5v5.5h-5.5zM303.4 285.5h5.5v5.5h-5.5zM303.7 285.3h5.5v5.5h-5.5zM304.0 285.1h5.5v5.5h-5.5zM304.6 284.8h5.5v5.5h-5.5zM305.2 284.5h5.5v5.5h-5.5zM305.8 284.2h5.5v5.5h-5.5zM306.4 283.9h5.5v5.5h-5.5zM306.9 283.7h5.5v5.5h-5.5zM307.5 283.4h5.5v5.5h-5.5zM308.0 283.2h5.5v5.5h-5.5zM308.6 282.9h5.5v5.5h-5.5zM309.1 282.7h5.5v5.5h-5.5zM309.7 282.4h5.5v5.5h-5.5zM310.2 282.2h5.5v5.5h-5.5zM310.8 282.0h5.5v5.5h-5.5zM311.3 281.8h5.5v5.5h-5.5zM311.8 281.6h5.5v5.5h-5.5zM312.3 281.4h5.5v5.5h-5.5zM312.8 281.2h5.5v5.5h-5.5zM313.3 281.1h5.5v5.5h-5.5zM313.8 280.9h5.5v5.5h-5.5zM314.3 280.7h5.5v5.5h-5.5zM314.8 280.6h5.5v5.5h-5.5zM315.3 280.4h5.5v5.5h-5.5zM315.8 280.3h5.5v5.5h-5.5zM316.3 280.1h5.5v5.5h-5.5zM316.7 280.0h5.5v5.5h-5.5zM317.2 279.9h5.5v5.5h-5.5zM317.7 279.7h5.5v5.5h-5.5zM318.1 279.6h5.5v5.5h-5.5zM318.6 279.5h5.5v5.5h-5.5zM319.0 279.4h5.5v5.5h-5.5zM319.5 279.3h5.5v5.5h-5.5zM319.9 279.2h5.5v5.5h-5.5zM320.4 279.1h5.5v5.5h-5.5zM320.8 279.0h5.5v5.5h-5.5zM321.2 278.9h5.5v5.5h-5.5zM321.7 278.8h5.5v5.5h-5.5zM322.1 278.7h5.5v5.5h-5.5zM322.5 278.6h5.5v5.5h-5.5zM322.9 278.5h5.5v5.5h-5.5zM323.3 278.4h5.5v5.5h-5.5zM323.7 278.3h5.5v5.5h-5.5zM324.2 278.3h5.5v5.5h-5.5zM324.6 278.2h5.5v5.5h-5.5zM325.0 278.1h5.5v5.5h-5.5zM325.4 278.1h5.5v5.5h-5.5zM325.8 278.0h5.5v5.5h-5.5zM326.1 277.9h5.5v5.5h-5.5zM326.5 277.9h5.5v5.5h-5.5zM326.9 277.8h5.5v5.5h-5.5zM327.3 277.8h5.5v5.5h-5.5zM327.7 277.7h5.5v5.5h-5.5zM328.1 277.7h5.5v5.5h-5.5zM328.4 277.6h5.5v5.5h-5.5zM328.8 277.6h5.5v5.5h-5.5zM329.2 277.5h5.5v5.5h-5.5zM329.6 277.5h5.5v5.5h-5.5zM329.9 277.4h5.5v5.5h-5.5zM330.3 277.4h5.5v5.5h-5.5zM330.6 277.3h5.5v5.5h-5.5zM331.0 277.3h5.5v5.5h-5.5zM39.7 472.2h5.5v5.5h-5.5zM73.8 470.6h5.5v5.5h-5.5zM94.8 468.8h5.5v5.5h-5.5zM109.6 467.1h5.5v5.5h-5.5zM121.2 465.4h5.5v5.5h-5.5zM130.6 463.8h5.5v5.5h-5.5zM138.5 462.1h5.5v5.5h-5.5zM145.4 460.5h5.5v5.5h-5.5zM151.5 458.8h5.5v5.5h-5.5zM157.0 457.2h5.5v5.5h-5.5zM161.9 455.6h5.5v5.5h-5.5zM166.4 454.0h5.5v5.5h-5.5zM170.5 452.4h5.5v5.5h-5.5zM174.4 450.9h5.5v5.5h-5.5zM177.9 449.3h5.5v5.5h-5.5zM181.3 447.8h5.5v5.5h-5.5zM184.4 446.3h5.5v5.5h-5.5zM187.4 444.8h5.5v5.5h-5.5zM190.1 443.3h5.5v5.5h-5.5zM192.8 441.8h5.5v5.5h-5.5zM195.3 440.3h5.5v5.5h-5.5zM197.7 438.9h5.5v5.5h-5.5zM200.0 437.4h5.5v5.5h-5.5zM202.2 436.0h5.5v5.5h-5.5zM204.3 434.6h5.5v5.5h-5.5zM206.4 433.2h5.5v5.5h-5.5zM208.3 431.8h5.5v5.5h-5.5zM210.2 430.4h5.5v5.5h-5.5zM212.0 429.0h5.5v5.5h-5.5zM213.8 427.7h5.5v5.5h-5.5zM215.4 426.3h5.5v5.5h-5.5zM217.1 425.0h5.5v5.5h-5.5zM218.7 423.7h5.5v5.5h-5.5zM220.2 422.4h5.5v5.5h-5.5zM221.7 421.1h5.5v5.5h-5.5zM223.2 419.8h5.5v5.5h-5.5zM224.6 418.5h5.5v5.5h-5.5zM226.0 417.3h5.5v5.5h-5.5zM227.3 416.0h5.5v5.5h-5.5zM228.6 414.8h5.5v5.5h-5.5zM229.9 413.6h5.5v5.5h-5.5zM231.1 412.3h5.5v5.5h-5.5zM232.4 411.1h5.5v5.5h-5.5zM233.5 409.9h5.5v5.5h-5.5zM234.7 408.8h5.5v5.5h-5.5zM235.8 407.6h5.5v5.5h-5.5zM237.0 406.4h5.5v5.5h-5.5zM238.0 405.3h5.5v5.5h-5.5zM239.1 404.1h5.5v5.5h-5.5zM240.2 403.0h5.5v5.5h-5.5zM241.2 401.9h5.5v5.5h-5.5zM242.2 400.8h5.5v5.5h-5.5zM243.2 399.7h5.5v5.5h-5.5zM244.1 398.6h5.5v5.5h-5.5zM245.1 397.5h5.5v5.5h-5.5zM246.0 396.4h5.5v5.5h-5.5zM246.9 395.3h5.5v5.5h-5.5zM247.8 394.3h5.5v5.5h-5.5zM248.7 393.2h5.5v5.5h-5.5zM249.6 392.2h5.5v5.5h-5.5zM250.4 391.2h5.5v5.5h-5.5zM251.3 390.1h5.5v5.5h-5.5zM252.1 389.1h5.5v5.5h-5.5zM252.9 388.1h5.5v5.5h-5.5zM253.7 387.1h5.5v5.5h-5.5zM254.5 386.2h5.5v5.5h-5.5zM255.3 385.2h5.5v5.5h-5.5zM256.0 384.2h5.5v5.5h-5.5zM256.8 383.3h5.5v5.5h-5.5zM257.5 382.3h5.5v5.5h-5.5zM258.3 381.4h5.5v5.5h-5.5zM259.0 380.4h5.5v5.5h-5.5zM259.7 379.5h5.5v5.5h-5.5zM260.4 378.6h5.5v5.5h-5.5zM261.1 377.7h5.5v5.5h-5.5zM261.8 376.8h5.5v5.5h-5.5zM262.5 375.9h5.5v5.5h-5.5zM263.1 375.0h5.5v5.5h-5.5zM263.8 374.2h5.5v5.5h-5.5zM264.4 373.3h5.5v5.5h-5.5zM265.1 372.4h5.5v5.5h-5.5zM265.7 371.6h5.5v5.5h-5.5zM266.3 370.7h5.5v5.5h-5.5zM267.0 369.9h5.5v5.5h-5.5zM267.6 369.1h5.5v5.5h-5.5zM268.2 368.2h5.5v5.5h-5.5zM268.8 367.4h5.5v5.5h-5.5zM269.4 366.6h5.5v5.5h-5.5zM270.0 365.8h5.5v5.5h-5.5zM270.5 365.0h5.5v5.5h-5.5zM271.1 364.2h5.5v5.5h-5.5zM271.7 363.5h5.5v5.5h-5.5zM272.2 362.7h5.5v5.5h-5.5zM272.8 361.9h5.5v5.5h-5.5zM273.3 361.2h5.5v5.5h-5.5zM273.9 360.4h5.5v5.5h-5.5zM274.4 359.7h5.5v5.5h-5.5zM274.9 358.9h5.5v5.5h-5.5zM275.5 358.2h5.5v5.5h-5.5zM276.0 357.5h5.5v5.5h-5.5zM276.5 356.7h5.5v5.5h-5.5zM277.0 356.0h5.5v5.5h-5.5zM277.5 355.3h5.5v5.5h-5.5zM278.0 354.6h5.5v5.5h-5.5zM278.5 353.9h5.5v5.5h-5.5zM279.0 353.2h5.5v5.5h-5.5zM279.5 352.6h5.5v5.5h-5.5zM280.0 351.9h5.5v5.5h-5.5zM280.4 351.2h5.5v5.5h-5.5zM280.9 350.5h5.5v5.5h-5.5zM281.4 349.9h5.5v5.5h-5.5zM281.8 349.2h5.5v5.5h-5.5zM282.3 348.6h5.5v5.5h-5.5zM282.7 347.9h5.5v5.5h-5.5zM283.2 347.3h5.5v5.5h-5.5zM283.6 346.7h5.5v5.5h-5.5zM284.1 346.1h5.5v5.5h-5.5zM284.5 345.4h5.5v5.5h-5.5zM285.0 344.8h5.5v5.5h-5.5zM285.4 344.2h5.5v5.5h-5.5zM285.8 343.6h5.5v5.5h-5.5zM286.3 343.0h5.5v5.5h-5.5zM286.7 342.4h5.5v5.5h-5.5zM287.1 341.8h5.5v5.5h-5.5zM287.5 341.3h5.5v5.5h-5.5zM287.9 340.7h5.5v5.5h-5.5zM288.3 340.1h5.5v5.5h-5.5zM288.7 339.5h5.5v5.5h-5.5zM289.1 339.0h5.5v5.5h-5.5zM289.5 338.4h5.5v5.5h-5.5zM289.9 337.9h5.5v5.5h-5.5zM290.3 337.3h5.5v5.5h-5.5zM290.7 336.8h5.5v5.5h-5.5zM291.1 336.2h5.5v5.5h-5.5zM291.5 335.7h5.5v5.5h-5.5zM291.9 335.2h5.5v5.5h-5.5zM292.2 334.7h5.5v5.5h-5.5zM292.6 334.2h5.5v5.5h-5.5zM293.0 333.6h5.5v5.5h-5.5zM293.4 333.1h5.5v5.5h-5.5zM293.7 332.6h5.5v5.5h-5.5zM294.1 332.1h5.5v5.5h-5.5zM294.5 331.6h5.5v5.5h-5.5zM294.8 331.1h5.5v5.5h-5.5zM295.2 330.7h5.5v5.5h-5.5zM295.5 330.2h5.5v5.5h-5.5zM295.9 329.7h5.5v5.5h-5.5zM296.2 329.2h5.5v5.5h-5.5zM296.6 328.7h5.5v5.5h-5.5zM296.9 328.3h5.5v5.5h-5.5zM297.3 327.8h5.5v5.5h-5.5zM297.6 327.4h5.5v5.5h-5.5zM298.0 326.9h5.5v5.5h-5.5zM298.3 326.5h5.5v5.5h-5.5zM298.6 326.0h5.5v5.5h-5.5zM299.0 325.6h5.5v5.5h-5.5zM299.3 325.1h5.5v5.5h-5.5zM299.6 324.7h5.5v5.5h-5.5zM299.9 324.3h5.5v5.5h-5.5zM300.3 323.9h5.5v5.5h-5.5zM300.6 323.4h5.5v5.5h-5.5zM300.9 323.0h5.5v5.5h-5.5zM301.2 322.6h5.5v5.5h-5.5zM301.5 322.2h5.5v5.5h-5.5zM301.9 321.8h5.5v5.5h-5.5zM302.2 321.4h5.5v5.5h-5.5zM302.5 321.0h5.5v5.5h-5.5zM302.8 320.6h5.5v5.5h-5.5zM303.1 320.2h5.5v5.5h-5.5zM303.4 319.8h5.5v5.5h-5.5zM303.7 319.4h5.5v5.5h-5.5zM304.0 319.0h5.5v5.5h-5.5zM304.3 318.7h5.5v5.5h-5.5zM304.6 318.3h5.5v5.5h-5.5zM304.9 317.9h5.5v5.5h-5.5zM305.2 317.5h5.5v5.5h-5.5zM305.5 317.2h5.5v5.5h-5.5zM305.8 316.8h5.5v5.5h-5.5zM306.1 316.4h5.5v5.5h-5.5zM306.4 316.1h5.5v5.5h-5.5zM306.6 315.7h5.5v5.5h-5.5zM306.9 315.4h5.5v5.5h-5.5zM307.2 315.0h5.5v5.5h-5.5zM307.5 314.7h5.5v5.5h-5.5zM307.8 314.4h5.5v5.5h-5.5zM308.0 314.0h5.5v5.5h-5.5zM308.3 313.7h5.5v5.5h-5.5zM308.6 313.4h5.5v5.5h-5.5zM308.9 313.0h5.5v5.5h-5.5zM309.1 312.7h5.5v5.5h-5.5zM309.4 312.4h5.5v5.5h-5.5zM309.7 312.1h5.5v5.5h-5.5zM310.0 311.7h5.5v5.5h-5.5zM310.2 311.4h5.5v5.5h-5.5zM310.5 311.1h5.5v5.5h-5.5zM310.8 310.8h5.5v5.5h-5.5zM311.0 310.5h5.5v5.5h-5.5zM311.3 310.2h5.5v5.5h-5.5zM311.5 309.9h5.5v5.5h-5.5zM312.1 309.3h5.5v5.5h-5.5zM312.6 308.7h5.5v5.5h-5.5zM313.1 308.1h5.5v5.5h-5.5zM313.6 307.6h5.5v5.5h-5.5zM314.1 307.0h5.5v5.5h-5.5zM314.6 306.5h5.5v5.5h-5.5zM315.1 305.9h5.5v5.5h-5.5zM315.5 305.4h5.5v5.5h-5.5zM316.0 304.9h5.5v5.5h-5.5zM316.5 304.4h5.5v5.5h-5.5zM317.0 303.9h5.5v5.5h-5.5zM317.4 303.4h5.5v5.5h-5.5zM317.9 302.9h5.5v5.5h-5.5zM318.3 302.5h5.5v5.5h-5.5zM318.8 302.0h5.5v5.5h-5.5zM319.2 301.6h5.5v5.5h-5.5zM319.7 301.1h5.5v5.5h-5.5zM320.1 300.7h5.5v5.5h-5.5zM320.6 300.2h5.5v5.5h-5.5zM321.0 299.8h5.5v5.5h-5.5zM321.4 299.4h5.5v5.5h-5.5zM321.9 299.0h5.5v5.5h-5.5zM322.3 298.6h5.5v5.5h-5.5zM322.7 298.2h5.5v5.5h-5.5zM323.1 297.8h5.5v5.5h-5.5zM323.5 297.4h5.5v5.5h-5.5zM323.9 297.1h5.5v5.5h-5.5zM324.4 296.7h5.5v5.5h-5.5zM324.8 296.3h5.5v5.5h-5.5zM325.2 296.0h5.5v5.5h-5.5zM325.6 295.6h5.5v5.5h-5.5zM326.0 295.3h5.5v5.5h-5.5zM326.3 294.9h5.5v5.5h-5.5zM326.7 294.6h5.5v5.5h-5.5zM327.1 294.3h5.5v5.5h-5.5zM327.5 294.0h5.5v5.5h-5.5zM327.9 293.7h5.5v5.5h-5.5zM328.3 293.4h5.5v5.5h-5.5zM328.6 293.0h5.5v5.5h-5.5zM329.0 292.8h5.5v5.5h-5.5zM329.4 292.5h5.5v5.5h-5.5zM329.7 292.2h5.5v5.5h-5.5zM330.1 291.9h5.5v5.5h-5.5zM330.5 291.6h5.5v5.5h-5.5zM330.8 291.3h5.5v5.5h-5.5zM331.2 291.1h5.5v5.5h-5.5zM39.7 473.2h5.5v5.5h-5.5zM73.8 472.4h5.5v5.5h-5.5zM94.8 471.6h5.5v5.5h-5.5zM109.6 470.7h5.5v5.5h-5.5zM121.2 469.9h5.5v5.5h-5.5zM130.6 469.1h5.5v5.5h-5.5zM138.5 468.3h5.5v5.5h-5.5zM145.4 467.5h5.5v5.5h-5.5zM151.5 466.6h5.5v5.5h-5.5zM157.0 465.8h5.5v5.5h-5.5zM161.9 465.0h5.5v5.5h-5.5zM166.4 464.2h5.5v5.5h-5.5zM170.5 463.4h5.5v5.5h-5.5zM174.4 462.7h5.5v5.5h-5.5zM177.9 461.9h5.5v5.5h-5.5zM181.3 461.1h5.5v5.5h-5.5zM184.4 460.3h5.5v5.5h-5.5zM187.4 459.5h5.5v5.5h-5.5zM190.1 458.7h5.5v5.5h-5.5zM192.8 458.0h5.5v5.5h-5.5zM195.3 457.2h5.5v5.5h-5.5zM197.7 456.4h5.5v5.5h-5.5zM200.0 455.7h5.5v5.5h-5.5zM202.2 454.9h5.5v5.5h-5.5zM204.3 454.2h5.5v5.5h-5.5zM206.4 453.4h5.5v5.5h-5.5zM208.3 452.7h5.5v5.5h-5.5zM210.2 451.9h5.5v5.5h-5.5zM212.0 451.2h5.5v5.5h-5.5zM213.8 450.4h5.5v5.5h-5.5zM215.4 449.7h5.5v5.5h-5.5zM217.1 449.0h5.5v5.5h-5.5zM218.7 448.2h5.5v5.5h-5.5zM220.2 447.5h5.5v5.5h-5.5zM221.7 446.8h5.5v5.5h-5.5zM223.2 446.1h5.5v5.5h-5.5zM224.6 445.3h5.5v5.5h-5.5zM226.0 444.6h5.5v5.5h-5.5zM227.3 443.9h5.5v5.5h-5.5zM228.6 443.2h5.5v5.5h-5.5zM229.9 442.5h5.5v5.5h-5.5zM231.1 441.8h5.5v5.5h-5.5zM232.4 441.1h5.5v5.5h-5.5zM233.5 440.4h5.5v5.5h-5.5zM234.7 439.7h5.5v5.5h-5.5zM235.8 439.0h5.5v5.5h-5.5zM237.0 438.3h5.5v5.5h-5.5zM238.0 437.6h5.5v5.5h-5.5zM239.1 437.0h5.5v5.5h-5.5zM240.2 436.3h5.5v5.5h-5.5zM241.2 435.6h5.5v5.5h-5.5zM242.2 434.9h5.5v5.5h-5.5zM243.2 434.3h5.5v5.5h-5.5zM244.1 433.6h5.5v5.5h-5.5zM245.1 432.9h5.5v5.5h-5.5zM246.0 432.3h5.5v5.5h-5.5zM246.9 431.6h5.5v5.5h-5.5zM247.8 430.9h5.5v5.5h-5.5zM248.7 430.3h5.5v5.5h-5.5zM249.6 429.6h5.5v5.5h-5.5zM250.4 429.0h5.5v5.5h-5.5zM251.3 428.3h5.5v5.5h-5.5zM252.1 427.7h5.5v5.5h-5.5zM252.9 427.1h5.5v5.5h-5.5zM253.7 426.4h5.5v5.5h-5.5zM254.5 425.8h5.5v5.5h-5.5zM255.3 425.1h5.5v5.5h-5.5zM256.0 424.5h5.5v5.5h-5.5zM256.8 423.9h5.5v5.5h-5.5zM257.5 423.3h5.5v5.5h-5.5zM258.3 422.6h5.5v5.5h-5.5zM259.0 422.0h5.5v5.5h-5.5zM259.7 421.4h5.5v5.5h-5.5zM260.4 420.8h5.5v5.5h-5.5zM261.1 420.2h5.5v5.5h-5.5zM261.8 419.6h5.5v5.5h-5.5zM262.5 419.0h5.5v5.5h-5.5zM263.1 418.4h5.5v5.5h-5.5zM263.8 417.8h5.5v5.5h-5.5zM264.4 417.2h5.5v5.5h-5.5zM265.1 416.6h5.5v5.5h-5.5zM265.7 416.0h5.5v5.5h-5.5zM266.3 415.4h5.5v5.5h-5.5zM267.0 414.8h5.5v5.5h-5.5zM267.6 414.2h5.5v5.5h-5.5zM268.2 413.6h5.5v5.5h-5.5zM268.8 413.0h5.5v5.5h-5.5zM269.4 412.5h5.5v5.5h-5.5zM270.0 411.9h5.5v5.5h-5.5zM270.5 411.3h5.5v5.5h-5.5zM271.1 410.7h5.5v5.5h-5.5zM271.7 410.2h5.5v5.5h-5.5zM272.2 409.6h5.5v5.5h-5.5zM272.8 409.0h5.5v5.5h-5.5zM273.3 408.5h5.5v5.5h-5.5zM273.9 407.9h5.5v5.5h-5.5zM274.4 407.4h5.5v5.5h-5.5zM274.9 406.8h5.5v5.5h-5.5zM275.5 406.3h5.5v5.5h-5.5zM276.0 405.7h5.5v5.5h-5.5zM276.5 405.2h5.5v5.5h-5.5zM277.0 404.6h5.5v5.5h-5.5zM277.5 404.1h5.5v5.5h-5.5zM278.0 403.5h5.5v5.5h-5.5zM278.5 403.0h5.5v5.5h-5.5zM279.0 402.5h5.5v5.5h-5.5zM279.5 401.9h5.5v5.5h-5.5zM280.0 401.4h5.5v5.5h-5.5zM280.4 400.9h5.5v5.5h-5.5zM280.9 400.3h5.5v5.5h-5.5zM281.4 399.8h5.5v5.5h-5.5zM281.8 399.3h5.5v5.5h-5.5zM282.3 398.8h5.5v5.5h-5.5zM282.7 398.3h5.5v5.5h-5.5zM283.2 397.7h5.5v5.5h-5.5zM283.6 397.2h5.5v5.5h-5.5zM284.1 396.7h5.5v5.5h-5.5zM284.5 396.2h5.5v5.5h-5.5zM285.0 395.7h5.5v5.5h-5.5zM285.4 395.2h5.5v5.5h-5.5zM285.8 394.7h5.5v5.5h-5.5zM286.3 394.2h5.5v5.5h-5.5zM286.7 393.7h5.5v5.5h-5.5zM287.1 393.2h5.5v5.5h-5.5zM287.5 392.7h5.5v5.5h-5.5zM287.9 392.2h5.5v5.5h-5.5zM288.3 391.7h5.5v5.5h-5.5zM288.7 391.2h5.5v5.5h-5.5zM289.1 390.7h5.5v5.5h-5.5zM289.5 390.3h5.5v5.5h-5.5zM289.9 389.8h5.5v5.5h-5.5zM290.3 389.3h5.5v5.5h-5.5zM290.7 388.8h5.5v5.5h-5.5zM291.1 388.3h5.5v5.5h-5.5zM291.5 387.9h5.5v5.5h-5.5zM291.9 387.4h5.5v5.5h-5.5zM292.2 386.9h5.5v5.5h-5.5zM292.6 386.5h5.5v5.5h-5.5zM293.0 386.0h5.5v5.5h-5.5zM293.4 385.5h5.5v5.5h-5.5zM293.7 385.1h5.5v5.5h-5.5zM294.1 384.6h5.5v5.5h-5.5zM294.5 384.1h5.5v5.5h-5.5zM294.8 383.7h5.5v5.5h-5.5zM295.2 383.2h5.5v5.5h-5.5zM295.5 382.8h5.5v5.5h-5.5zM295.9 382.3h5.5v5.5h-5.5zM296.2 381.9h5.5v5.5h-5.5zM296.6 381.4h5.5v5.5h-5.5zM296.9 381.0h5.5v5.5h-5.5zM297.3 380.5h5.5v5.5h-5.5zM297.6 380.1h5.5v5.5h-5.5zM298.0 379.7h5.5v5.5h-5.5zM298.3 379.2h5.5v5.5h-5.5zM298.6 378.8h5.5v5.5h-5.5zM299.0 378.4h5.5v5.5h-5.5zM299.3 377.9h5.5v5.5h-5.5zM299.6 377.5h5.5v5.5h-5.5zM299.9 377.1h5.5v5.5h-5.5zM300.3 376.6h5.5v5.5h-5.5zM300.6 376.2h5.5v5.5h-5.5zM300.9 375.8h5.5v5.5h-5.5zM301.2 375.4h5.5v5.5h-5.5zM301.5 375.0h5.5v5.5h-5.5zM301.9 374.5h5.5v5.5h-5.5zM302.2 374.1h5.5v5.5h-5.5zM302.5 373.7h5.5v5.5h-5.5zM302.8 373.3h5.5v5.5h-5.5zM303.1 372.9h5.5v5.5h-5.5zM303.4 372.5h5.5v5.5h-5.5zM303.7 372.1h5.5v5.5h-5.5zM304.0 371.7h5.5v5.5h-5.5zM304.3 371.3h5.5v5.5h-5.5zM304.6 370.9h5.5v5.5h-5.5zM304.9 370.5h5.5v5.5h-5.5zM305.2 370.1h5.5v5.5h-5.5zM305.5 369.7h5.5v5.5h-5.5zM305.8 369.3h5.5v5.5h-5.5zM306.1 368.9h5.5v5.5h-5.5zM306.4 368.5h5.5v5.5h-5.5zM306.6 368.1h5.5v5.5h-5.5zM306.9 367.7h5.5v5.5h-5.5zM307.2 367.3h5.5v5.5h-5.5zM307.5 366.9h5.5v5.5h-5.5zM307.8 366.5h5.5v5.5h-5.5zM308.0 366.2h5.5v5.5h-5.5zM308.3 365.8h5.5v5.5h-5.5zM308.6 365.4h5.5v5.5h-5.5zM308.9 365.0h5.5v5.5h-5.5zM309.1 364.7h5.5v5.5h-5.5zM309.4 364.3h5.5v5.5h-5.5zM309.7 363.9h5.5v5.5h-5.5zM310.0 363.5h5.5v5.5h-5.5zM310.2 363.2h5.5v5.5h-5.5zM310.5 362.8h5.5v5.5h-5.5zM310.8 362.4h5.5v5.5h-5.5zM311.0 362.1h5.5v5.5h-5.5zM311.3 361.7h5.5v5.5h-5.5zM311.5 361.3h5.5v5.5h-5.5zM311.8 361.0h5.5v5.5h-5.5zM312.1 360.6h5.5v5.5h-5.5zM312.3 360.3h5.5v5.5h-5.5zM312.6 359.9h5.5v5.5h-5.5zM312.8 359.6h5.5v5.5h-5.5zM313.1 359.2h5.5v5.5h-5.5zM313.3 358.9h5.5v5.5h-5.5zM313.6 358.5h5.5v5.5h-5.5zM313.8 358.2h5.5v5.5h-5.5zM314.1 357.8h5.5v5.5h-5.5zM314.3 357.5h5.5v5.5h-5.5zM314.6 357.1h5.5v5.5h-5.5zM314.8 356.8h5.5v5.5h-5.5zM315.1 356.4h5.5v5.5h-5.5zM315.3 356.1h5.5v5.5h-5.5zM315.5 355.8h5.5v5.5h-5.5zM315.8 355.4h5.5v5.5h-5.5zM316.0 355.1h5.5v5.5h-5.5zM316.3 354.8h5.5v5.5h-5.5zM316.5 354.4h5.5v5.5h-5.5zM316.7 354.1h5.5v5.5h-5.5zM317.0 353.8h5.5v5.5h-5.5zM317.2 353.4h5.5v5.5h-5.5zM317.4 353.1h5.5v5.5h-5.5zM317.7 352.8h5.5v5.5h-5.5zM317.9 352.5h5.5v5.5h-5.5zM318.1 352.1h5.5v5.5h-5.5zM318.3 351.8h5.5v5.5h-5.5zM318.6 351.5h5.5v5.5h-5.5zM318.8 351.2h5.5v5.5h-5.5zM319.0 350.9h5.5v5.5h-5.5zM319.2 350.6h5.5v5.5h-5.5zM319.5 350.2h5.5v5.5h-5.5zM319.7 349.9h5.5v5.5h-5.5zM319.9 349.6h5.5v5.5h-5.5zM320.1 349.3h5.5v5.5h-5.5zM320.4 349.0h5.5v5.5h-5.5zM320.6 348.7h5.5v5.5h-5.5zM320.8 348.4h5.5v5.5h-5.5zM321.0 348.1h5.5v5.5h-5.5zM321.2 347.8h5.5v5.5h-5.5zM321.4 347.5h5.5v5.5h-5.5zM321.7 347.2h5.5v5.5h-5.5zM322.1 346.6h5.5v5.5h-5.5zM322.5 346.0h5.5v5.5h-5.5zM322.9 345.4h5.5v5.5h-5.5zM323.3 344.8h5.5v5.5h-5.5zM323.7 344.2h5.5v5.5h-5.5zM324.2 343.6h5.5v5.5h-5.5zM324.6 343.1h5.5v5.5h-5.5zM325.0 342.5h5.5v5.5h-5.5zM325.4 342.0h5.5v5.5h-5.5zM325.8 341.4h5.5v5.5h-5.5zM326.1 340.9h5.5v5.5h-5.5zM326.5 340.3h5.5v5.5h-5.5zM326.9 339.8h5.5v5.5h-5.5zM327.3 339.2h5.5v5.5h-5.5zM327.7 338.7h5.5v5.5h-5.5zM328.1 338.2h5.5v5.5h-5.5zM328.4 337.6h5.5v5.5h-5.5zM328.8 337.1h5.5v5.5h-5.5zM329.2 336.6h5.5v5.5h-5.5zM329.6 336.1h5.5v5.5h-5.5zM329.9 335.6h5.5v5.5h-5.5zM330.3 335.1h5.5v5.5h-5.5zM330.6 334.6h5.5v5.5h-5.5zM331.0 334.1h5.5v5.5h-5.5z" fill="#000"/>
<rect x="39.00" y="279.00" width="295.10" height="217.75" fill="none" stroke="#111" stroke-width="1.30"/>
<path d="M39.20 496.75v-5M39.20 279.00v5M158.20 496.75v-5M158.20 279.00v5M277.20 496.75v-5M277.20 279.00v5M75.02 496.75v-3M75.02 279.00v3M95.98 496.75v-3M95.98 279.00v3M110.85 496.75v-3M110.85 279.00v3M122.38 496.75v-3M122.38 279.00v3M131.80 496.75v-3M131.80 279.00v3M139.77 496.75v-3M139.77 279.00v3M146.67 496.75v-3M146.67 279.00v3M152.75 496.75v-3M152.75 279.00v3M194.02 496.75v-3M194.02 279.00v3M214.98 496.75v-3M214.98 279.00v3M229.85 496.75v-3M229.85 279.00v3M241.38 496.75v-3M241.38 279.00v3M250.80 496.75v-3M250.80 279.00v3M258.77 496.75v-3M258.77 279.00v3M265.67 496.75v-3M265.67 279.00v3M271.75 496.75v-3M271.75 279.00v3M313.02 496.75v-3M313.02 279.00v3M39.00 476.80h5M334.10 476.80h-5M39.00 457.02h3M334.10 457.02h-3M39.00 437.24h5M334.10 437.24h-5M39.00 417.46h3M334.10 417.46h-3M39.00 397.68h5M334.10 397.68h-5M39.00 377.90h3M334.10 377.90h-3M39.00 358.12h5M334.10 358.12h-5M39.00 338.34h3M334.10 338.34h-3M39.00 318.56h5M334.10 318.56h-5M39.00 298.78h3M334.10 298.78h-3M39.00 279.00h5M334.10 279.00h-5" stroke="#000" stroke-width="1.15" fill="none"/>
<text class="r" x="34.3" y="481.10" text-anchor="end" font-size="10.3" transform="translate(34.3 0) scale(1.08 1) translate(-34.3 0)">0.0</text>
<text class="r" x="34.3" y="441.54" text-anchor="end" font-size="10.3" transform="translate(34.3 0) scale(1.08 1) translate(-34.3 0)">0.2</text>
<text class="r" x="34.3" y="401.98" text-anchor="end" font-size="10.3" transform="translate(34.3 0) scale(1.08 1) translate(-34.3 0)">0.4</text>
<text class="r" x="34.3" y="362.42" text-anchor="end" font-size="10.3" transform="translate(34.3 0) scale(1.08 1) translate(-34.3 0)">0.6</text>
<text class="r" x="34.3" y="322.86" text-anchor="end" font-size="10.3" transform="translate(34.3 0) scale(1.08 1) translate(-34.3 0)">0.8</text>
<text class="r" x="34.3" y="282.00" text-anchor="end" font-size="10.3" transform="translate(34.3 0) scale(1.08 1) translate(-34.3 0)">1.0</text>
<text class="r" x="39.20" y="510.20" text-anchor="middle" font-size="10.3" transform="translate(39.20 0) scale(1.08 1) translate(-39.20 0)">10</text>
<text class="r" x="158.20" y="510.20" text-anchor="middle" font-size="10.3" transform="translate(158.20 0) scale(1.08 1) translate(-158.20 0)">100</text>
<text class="r" x="277.20" y="510.20" text-anchor="middle" font-size="10.3" transform="translate(277.20 0) scale(1.08 1) translate(-277.20 0)">1000</text>
<text class="r" x="187.2" y="528.2" text-anchor="middle" font-size="12.2" transform="translate(187.2 0) scale(1.06 1) translate(-187.2 0)">Time (s)</text>
<text class="r" transform="translate(10.0 387.8) rotate(-90) scale(1.02 1)" text-anchor="middle" font-size="12.6">Degree of denaturation</text>
<text x="48.5" y="299.9" font-size="15.8" font-weight="bold" transform="translate(48.5 0) scale(1.0 1) translate(-48.5 0)">B</text>
<text x="120.80" y="374.60" font-size="9" font-weight="bold" transform="translate(120.80 0) scale(1.09 1) translate(-120.80 0)">10 pN</text>
<text x="162.60" y="374.40" font-size="9" font-weight="bold" transform="translate(162.60 0) scale(1.09 1) translate(-162.60 0)">12 pN</text>
<text x="204.80" y="373.70" font-size="9" font-weight="bold" transform="translate(204.80 0) scale(1.09 1) translate(-204.80 0)">14 pN</text>
<text x="242.30" y="372.90" font-size="9" font-weight="bold" transform="translate(242.30 0) scale(1.09 1) translate(-242.30 0)">16 pN</text>
<text x="279.80" y="373.20" font-size="9" font-weight="bold" transform="translate(279.80 0) scale(1.09 1) translate(-279.80 0)">18 pN</text>
</svg></body></html>
